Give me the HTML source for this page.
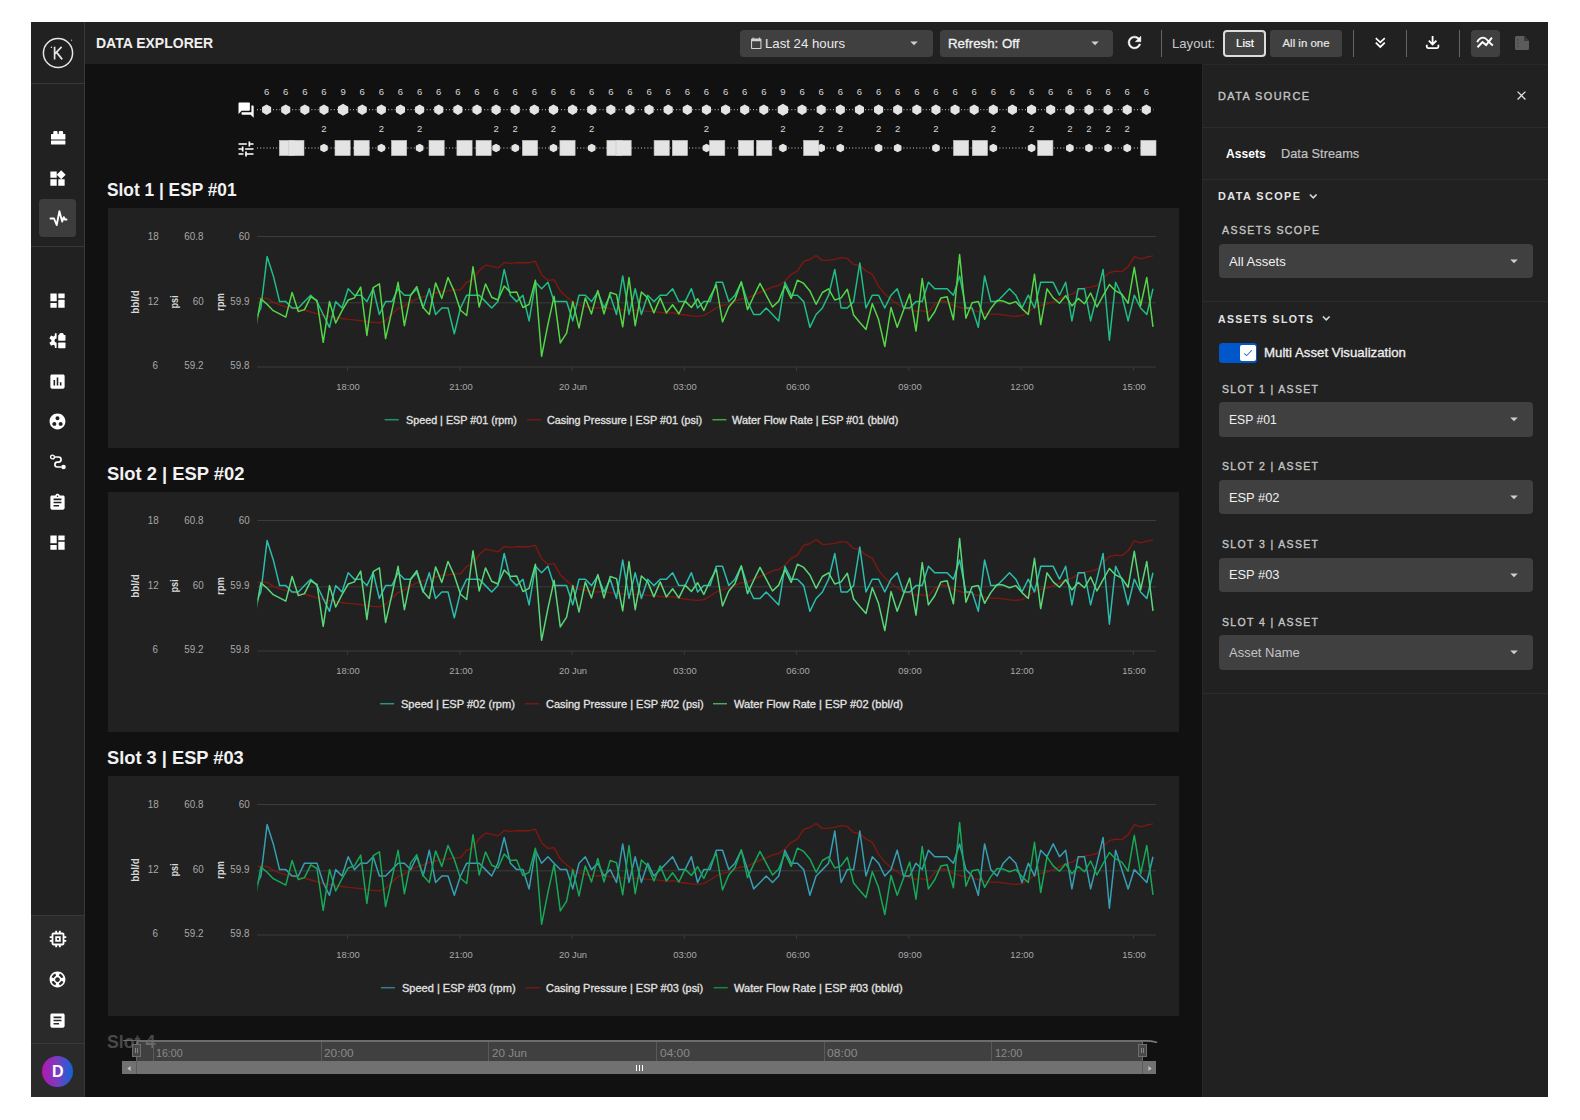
<!DOCTYPE html>
<html><head><meta charset="utf-8"><title>Data Explorer</title>
<style>
html,body{margin:0;padding:0;background:#fff;}
body{width:1580px;height:1120px;position:relative;overflow:hidden;font-family:"Liberation Sans", sans-serif;}
body>div,body>svg,body>span{position:absolute;}
.t{white-space:nowrap;display:block;}
svg{overflow:visible;}
</style></head><body>
<div style="left:31px;top:22px;width:1517px;height:1075px;background:#111111;"></div>
<div style="left:85px;top:22px;width:1463px;height:42px;background:#212121;"></div>
<div style="left:31px;top:22px;width:53px;height:1075px;background:#212121;"></div>
<div style="left:84px;top:22px;width:1px;height:1075px;background:#383838;"></div>
<div style="left:31px;top:83px;width:53px;height:1px;background:#383838;"></div>
<div style="left:31px;top:246px;width:53px;height:1px;background:#383838;"></div>
<div style="left:31px;top:916px;width:53px;height:181px;background:#2a2a2a;"></div>
<div style="left:31px;top:915px;width:53px;height:1px;background:#383838;"></div>
<div style="left:31px;top:1043px;width:53px;height:1px;background:#383838;"></div>
<div style="left:1202px;top:64px;width:346px;height:1033px;background:#212121;"></div>
<div style="left:1202px;top:64px;width:346px;height:1px;background:#282828;"></div>
<div style="left:1202px;top:64px;width:1px;height:1033px;background:#272727;"></div>
<div style="left:1202px;top:127px;width:346px;height:1px;background:#2c2c2c;"></div>
<div style="left:1202px;top:179px;width:346px;height:1px;background:#2c2c2c;"></div>
<div style="left:1202px;top:301px;width:346px;height:1px;background:#2c2c2c;"></div>
<div style="left:1202px;top:693px;width:346px;height:1px;background:#2c2c2c;"></div>
<svg style="left:41.7px;top:36.6px;" width="32" height="32" viewBox="0 0 32 32"><circle cx="16" cy="16" r="14.600" fill="none" stroke="#e6e6e6" stroke-width="1.500"/><path d="M12.6 9.8V22.4M12.6 17.2L19.6 9.8M14.6 15.4L20.2 22.4" fill="none" stroke="#e6e6e6" stroke-width="1.700"/><circle cx="9.4" cy="10.3" r="0.8" fill="#e6e6e6"/><circle cx="29.5" cy="3.2" r="0.7" fill="#aaa"/></svg>
<div style="left:39px;top:199px;width:37px;height:38px;background:#3d3d3d;border-radius:4px;"></div>
<svg style="left:48.2px;top:168.5px;" width="19" height="19" viewBox="0 0 24 24"><path d="M13 13v8h8v-8h-8zM3 21h8v-8H3v8zM3 3v8h8V3H3zm13.66-1.31L11 7.34 16.66 13l5.66-5.66-5.66-5.65z" fill="#fff" /></svg>
<svg style="left:48.2px;top:290.5px;" width="19" height="19" viewBox="0 0 24 24"><path d="M3 13h8V3H3v10zm0 8h8v-6H3v6zm10 0h8V11h-8v10zm0-18v6h8V3h-8z" fill="#fff" /></svg>
<svg style="left:48.2px;top:371.5px;" width="19" height="19" viewBox="0 0 24 24"><path d="M19 3H5c-1.1 0-2 .9-2 2v14c0 1.1.9 2 2 2h14c1.1 0 2-.9 2-2V5c0-1.1-.9-2-2-2zM9 17H7v-7h2v7zm4 0h-2V7h2v10zm4 0h-2v-4h2v4z" fill="#fff" /></svg>
<svg style="left:48.2px;top:412.2px;" width="19" height="19" viewBox="0 0 24 24"><path d="M12 2C6.48 2 2 6.48 2 12s4.48 10 10 10 10-4.48 10-10S17.52 2 12 2zM8 17.5c-1.38 0-2.5-1.12-2.5-2.5s1.12-2.5 2.5-2.5 2.5 1.12 2.5 2.5-1.12 2.5-2.5 2.5zM9.5 8c0-1.38 1.12-2.5 2.5-2.5s2.5 1.12 2.5 2.5-1.12 2.5-2.5 2.5S9.5 9.38 9.5 8zm6.500 9.5c-1.38 0-2.5-1.12-2.5-2.5s1.12-2.5 2.5-2.5 2.500 1.12 2.500 2.500-1.12 2.500-2.500 2.500z" fill="#fff" /></svg>
<svg style="left:48.2px;top:492.5px;" width="19" height="19" viewBox="0 0 24 24"><path d="M19 3h-4.18C14.4 1.84 13.3 1 12 1c-1.3 0-2.4.84-2.820 2H5c-1.100 0-2 .9-2 2v14c0 1.100.9 2 2 2h14c1.100 0 2-.9 2-2V5c0-1.100-.9-2-2-2zm-7 0c.55 0 1 .45 1 1s-.45 1-1 1-1-.45-1-1 .45-1 1-1zm2 14H7v-2h7v2zm3-4H7v-2h10v2zm0-4H7V7h10v2z" fill="#fff" /></svg>
<svg style="left:48.2px;top:532.5px;" width="19" height="19" viewBox="0 0 24 24"><path d="M3 13h8V3H3v10zm0 8h8v-6H3v6zm10 0h8V11h-8v10zm0-18v6h8V3h-8z" fill="#fff" /></svg>
<svg style="left:46.7px;top:928.2px;" width="22" height="22" viewBox="0 0 24 24"><path d="M15 9H9v6h6V9zm-2 4h-2v-2h2v2zm8-2V9h-2V7c0-1.100-.9-2-2-2h-2V3h-2v2h-2V3H9v2H7c-1.100 0-2 .9-2 2v2H3v2h2v2H3v2h2v2c0 1.100.9 2 2 2h2v2h2v-2h2v2h2v-2h2c1.100 0 2-.9 2-2v-2h2v-2h-2v-2h2zm-4 6H7V7h10v10z" fill="#fff" /></svg>
<svg style="left:48.2px;top:970.0px;" width="19" height="19" viewBox="0 0 24 24"><path d="M12 2C6.48 2 2 6.48 2 12s4.48 10 10 10 10-4.48 10-10S17.52 2 12 2zm7.46 7.12l-2.780 1.150c-.51-1.360-1.580-2.440-2.950-2.940l1.150-2.780c2.100.8 3.770 2.470 4.580 4.570zM12 15c-1.660 0-3-1.340-3-3s1.340-3 3-3 3 1.340 3 3-1.340 3-3 3zM9.130 4.540l1.170 2.780c-1.380.5-2.470 1.590-2.980 2.970L4.540 9.130c.81-2.110 2.480-3.780 4.590-4.590zM4.540 14.870l2.780-1.150c.51 1.380 1.590 2.460 2.970 2.960l-1.170 2.780c-2.100-.81-3.770-2.480-4.580-4.590zm10.340 4.590l-1.150-2.780c1.370-.51 2.450-1.590 2.950-2.970l2.780 1.170c-.81 2.100-2.480 3.770-4.580 4.580z" fill="#fff" /></svg>
<svg style="left:48.2px;top:1010.5px;" width="19" height="19" viewBox="0 0 24 24"><path d="M19 3H5c-1.100 0-2 .9-2 2v14c0 1.100.9 2 2 2h14c1.100 0 2-.9 2-2V5c0-1.100-.9-2-2-2zm-5 14H7v-2h7v2zm3-4H7v-2h10v2zm0-4H7V7h10v2z" fill="#fff" /></svg>
<svg style="left:50.8px;top:131.2px;" width="14.4" height="13.6" viewBox="0 0 14.400 13.600"><rect x="2.300" y="0" width="4.300" height="5" rx="1.100" fill="#fff"/><rect x="7.800" y="0" width="4.300" height="5" rx="1.100" fill="#fff"/><rect x="0" y="3.100" width="14.400" height="5.300" rx="0.500" fill="#fff"/><rect x="0" y="9.500" width="14.400" height="4.100" rx="0.500" fill="#fff"/></svg>
<svg style="left:48.9px;top:333px;" width="16.5" height="15.2" viewBox="0 0 16.500 15.200"><defs><clipPath id="gclip"><rect x="-1" y="-1" width="8.600" height="18"/></clipPath></defs><path d="M9.50 2.65L9.31 0.19L5.89 0.19L5.70 2.65L4.26 3.48L2.04 2.42L0.33 5.38L2.37 6.77L2.37 8.43L0.33 9.82L2.04 12.78L4.26 11.72L5.70 12.55L5.89 15.01L9.31 15.01L9.50 12.55L10.94 11.72L13.16 12.78L14.87 9.82L12.83 8.43L12.83 6.77L14.87 5.38L13.16 2.42L10.94 3.48ZM5.5 7.6a2.1 2.1 0 1 0 4.2 0a2.1 2.1 0 1 0 -4.2 0Z" fill="#fff" fill-rule="evenodd" clip-path="url(#gclip)"/><rect x="9.200" y="2" width="7.300" height="5.700" rx="0.600" fill="#fff"/><rect x="10.200" y="0" width="4.500" height="4" rx="1.600" fill="#fff"/><rect x="9.200" y="9.600" width="7.300" height="5.600" rx="0.600" fill="#fff"/></svg>
<svg style="left:49px;top:209px;" width="18" height="18" viewBox="0 0 18 18"><path d="M1.500 9.500H5l2.700 6.500L10.400 2.300l2.800 10.200 1.600-4.300 1.200 2.300h1.500" fill="none" stroke="#fff" stroke-width="1.900" stroke-linejoin="round" stroke-linecap="round"/></svg>
<svg style="left:49px;top:453px;" width="18" height="18" viewBox="0 0 18 18"><circle cx="3.500" cy="4" r="1.900" fill="none" stroke="#fff" stroke-width="1.400"/><circle cx="14.500" cy="14" r="2.300" fill="#fff"/><path d="M5.400 4H9.500a2.600 2.600 0 0 1 0 5.200H8.300a2.400 2.400 0 0 0 0 4.800H12.300" fill="none" stroke="#fff" stroke-width="1.700"/></svg>
<div style="left:42.200px;top:1055.500px;width:31px;height:31px;border-radius:50%;background:linear-gradient(90deg,#b217b0 0%,#7a3cc0 50%,#0c66d6 100%);"></div>
<span class="t" style="left:-442.2px;width:1000px;text-align:center;transform-origin:50% 50%;top:1061.00px;font-size:16px;line-height:22px;font-weight:700;color:#fff;">D</span>
<span class="t" style="left:95.88px;transform-origin:0 50%;top:33.00px;font-size:14.5px;line-height:20px;font-weight:700;color:#efefef;transform:scaleX(0.9656);">DATA EXPLORER</span>
<div style="left:740px;top:30px;width:193px;height:27px;background:#404040;border-radius:4px;"></div>
<svg style="left:750.35px;top:36.95px;" width="12.5" height="12.5" viewBox="0 0 24 24"><path d="M20 3h-1V1h-2v2H7V1H5v2H4c-1.100 0-2 .9-2 2v16c0 1.100.9 2 2 2h16c1.100 0 2-.9 2-2V5c0-1.100-.9-2-2-2zm0 18H4V8h16v13z" fill="#d4d4d4" /></svg>
<span class="t" style="left:765.33px;transform-origin:0 50%;top:34.00px;font-size:13.5px;line-height:19px;font-weight:400;color:#e9e9e9;transform:scaleX(0.9778);">Last 24 hours</span>
<svg style="left:905.0px;top:33.9px;" width="18" height="18" viewBox="0 0 24 24"><path d="M7 10l5 5 5-5z" fill="#cfcfcf" /></svg>
<div style="left:940px;top:30px;width:173px;height:27px;background:#404040;border-radius:4px;"></div>
<span class="t" style="left:947.83px;transform-origin:0 50%;top:34.00px;font-size:13.5px;line-height:19px;font-weight:400;color:#f2f2f2;transform:scaleX(0.9858);-webkit-text-stroke:0.3px #f2f2f2;">Refresh: Off</span>
<svg style="left:1086.0px;top:33.9px;" width="18" height="18" viewBox="0 0 24 24"><path d="M7 10l5 5 5-5z" fill="#cfcfcf" /></svg>
<svg style="left:1125.3px;top:33.3px;" width="19" height="19" viewBox="0 0 24 24"><path d="M17.650 6.350C16.200 4.900 14.210 4 12 4c-4.420 0-7.990 3.580-7.990 8s3.570 8 7.990 8c3.730 0 6.840-2.550 7.730-6h-2.080c-.82 2.330-3.040 4-5.650 4-3.310 0-6-2.690-6-6s2.690-6 6-6c1.660 0 3.140.69 4.220 1.780L13 11h7V4l-2.350 2.350z" fill="#fff" stroke="#fff" stroke-width="0.600"/></svg>
<div style="left:1161px;top:30px;width:1px;height:27px;background:#646464;"></div>
<div style="left:1353px;top:30px;width:1px;height:27px;background:#646464;"></div>
<div style="left:1406px;top:30px;width:1px;height:27px;background:#646464;"></div>
<div style="left:1459px;top:30px;width:1px;height:27px;background:#646464;"></div>
<span class="t" style="left:1172.33px;transform-origin:0 50%;top:34.00px;font-size:13.5px;line-height:19px;font-weight:400;color:#c9c9c9;transform:scaleX(0.9707);">Layout:</span>
<div style="left:1223px;top:30px;width:43px;height:27px;background:#404040;border-radius:4px;box-sizing:border-box;border:2px solid #dcdcdc;"></div>
<span class="t" style="left:744.5px;width:1000px;text-align:center;transform-origin:50% 50%;top:35.00px;font-size:11.5px;line-height:16px;font-weight:400;color:#fff;transform:scaleX(1.0052);-webkit-text-stroke:0.2px #fff;">List</span>
<div style="left:1270px;top:30px;width:72px;height:27px;background:#404040;border-radius:3px;"></div>
<span class="t" style="left:806px;width:1000px;text-align:center;transform-origin:50% 50%;top:35.00px;font-size:11.5px;line-height:16px;font-weight:400;color:#e6e6e6;transform:scaleX(0.9934);-webkit-text-stroke:0.2px #e6e6e6;">All in one</span>
<svg style="left:1373.6px;top:36.3px;" width="12.6" height="12.6" viewBox="0 0 14 14"><path d="M2 2.300l5 4.700 5-4.700M2 7.500l5 4.700 5-4.700" fill="none" stroke="#fff" stroke-width="1.900"/></svg>
<svg style="left:1425.3px;top:35.2px;" width="15.2" height="15.2" viewBox="0 0 16 16"><path d="M8 1v8.500M4 6l4 4 4-4" fill="none" stroke="#fff" stroke-width="1.900"/><path d="M1.900 10.200v2.300a1.300 1.300 0 0 0 1.300 1.300h9.600a1.300 1.300 0 0 0 1.300-1.300v-2.300" fill="none" stroke="#fff" stroke-width="1.900"/></svg>
<div style="left:1471px;top:30px;width:29px;height:27px;background:#404040;border-radius:4px;"></div>
<svg style="left:1476.2px;top:35.0px;" width="18" height="14" viewBox="0 0 18 14"><path d="M1.200 7.200C3 3 6.500 1.500 9.500 3.500S14 9 17 10.500" fill="none" stroke="#fff" stroke-width="1.900"/><path d="M1.500 12.200l5-5.200 3.600 3 5.800-7.400" fill="none" stroke="#fff" stroke-width="2"/></svg>
<svg style="left:1515px;top:36px;" width="14" height="14" viewBox="0 0 14 14"><path d="M1.500 0H9l5 5v7.500A1.500 1.500 0 0 1 12.500 14h-11A1.500 1.500 0 0 1 0 12.500v-11A1.500 1.500 0 0 1 1.500 0z" fill="#5c5c5c"/><path d="M9 0v5h5z" fill="#3a3a3a"/><rect x="2.300" y="3.300" width="1.400" height="1.400" fill="#444"/><rect x="2.300" y="6.300" width="1.400" height="1.400" fill="#444"/><rect x="2.300" y="9.300" width="1.400" height="1.400" fill="#444"/></svg>
<span class="t" style="left:1218.02px;transform-origin:0 50%;top:88.00px;font-size:11.5px;line-height:16px;font-weight:400;color:#c6c6c6;letter-spacing:1.5px;transform:scaleX(0.9505);-webkit-text-stroke:0.35px #c6c6c6;">DATA SOURCE</span>
<svg style="left:1513.5px;top:88.3px;" width="15" height="15" viewBox="0 0 24 24"><path d="M19 6.410L17.590 5 12 10.590 6.410 5 5 6.410 10.590 12 5 17.590 6.410 19 12 13.410 17.590 19 19 17.590 13.410 12z" fill="#e0e0e0" /></svg>
<span class="t" style="left:1225.62px;transform-origin:0 50%;top:144.00px;font-size:13.5px;line-height:19px;font-weight:700;color:#fff;transform:scaleX(0.8965);">Assets</span>
<span class="t" style="left:1281.12px;transform-origin:0 50%;top:144.00px;font-size:13.5px;line-height:19px;font-weight:400;color:#c2c2c2;transform:scaleX(0.9475);-webkit-text-stroke:0.2px #c2c2c2;">Data Streams</span>
<span class="t" style="left:1218.02px;transform-origin:0 50%;top:188.00px;font-size:11.5px;line-height:16px;font-weight:700;color:#e4e4e4;letter-spacing:1.5px;transform:scaleX(0.9451);">DATA SCOPE</span>
<svg style="left:1305.75px;top:188.55px;" width="14.5" height="14.5" viewBox="0 0 24 24"><path d="M16.590 8.590L12 13.170 7.410 8.590 6 10l6 6 6-6z" fill="#e4e4e4" stroke="#e4e4e4" stroke-width="0.700"/></svg>
<span class="t" style="left:1221.72px;transform-origin:0 50%;top:222.00px;font-size:11.5px;line-height:16px;font-weight:400;color:#c6c6c6;letter-spacing:1.5px;transform:scaleX(0.9208);-webkit-text-stroke:0.35px #c6c6c6;">ASSETS SCOPE</span>
<div style="left:1219px;top:243.7px;width:314px;height:34.5px;background:#404040;border-radius:4px;"></div>
<span class="t" style="left:1228.62px;transform-origin:0 50%;top:252.00px;font-size:13.5px;line-height:19px;font-weight:400;color:#f0f0f0;transform:scaleX(0.9687);">All Assets</span>
<svg style="left:1505.0px;top:251.59999999999997px;" width="18" height="18" viewBox="0 0 24 24"><path d="M7 10l5 5 5-5z" fill="#cfcfcf" /></svg>
<span class="t" style="left:1218.02px;transform-origin:0 50%;top:311.00px;font-size:11.5px;line-height:16px;font-weight:700;color:#e4e4e4;letter-spacing:1.5px;transform:scaleX(0.9131);">ASSETS SLOTS</span>
<svg style="left:1318.75px;top:311.35px;" width="14.5" height="14.5" viewBox="0 0 24 24"><path d="M16.590 8.590L12 13.170 7.410 8.590 6 10l6 6 6-6z" fill="#e4e4e4" stroke="#e4e4e4" stroke-width="0.700"/></svg>
<div style="left:1219px;top:343px;width:38px;height:20px;background:#0057c9;border-radius:3.500px;"></div>
<div style="left:1240px;top:345px;width:16px;height:16px;background:#fff;border-radius:2px;"></div>
<svg style="left:1242.6px;top:348px;" width="10" height="10" viewBox="0 0 10 10"><path d="M1.200 5.500l2.500 2.100 5.200-5.400" fill="none" stroke="#3f7ad6" stroke-width="1.050"/></svg>
<span class="t" style="left:1264.33px;transform-origin:0 50%;top:343.00px;font-size:13.5px;line-height:19px;font-weight:400;color:#f0f0f0;transform:scaleX(0.9822);-webkit-text-stroke:0.3px #f0f0f0;">Multi Asset Visualization</span>
<span class="t" style="left:1221.72px;transform-origin:0 50%;top:381.00px;font-size:11.5px;line-height:16px;font-weight:400;color:#c6c6c6;letter-spacing:1.5px;transform:scaleX(0.9110);-webkit-text-stroke:0.35px #c6c6c6;">SLOT 1 | ASSET</span>
<div style="left:1219px;top:402.0px;width:314px;height:34.5px;background:#404040;border-radius:4px;"></div>
<span class="t" style="left:1228.62px;transform-origin:0 50%;top:410.00px;font-size:13.5px;line-height:19px;font-weight:400;color:#f0f0f0;transform:scaleX(0.9011);">ESP #01</span>
<svg style="left:1505.0px;top:409.9px;" width="18" height="18" viewBox="0 0 24 24"><path d="M7 10l5 5 5-5z" fill="#cfcfcf" /></svg>
<span class="t" style="left:1221.72px;transform-origin:0 50%;top:458.00px;font-size:11.5px;line-height:16px;font-weight:400;color:#c6c6c6;letter-spacing:1.5px;transform:scaleX(0.9110);-webkit-text-stroke:0.35px #c6c6c6;">SLOT 2 | ASSET</span>
<div style="left:1219px;top:479.8px;width:314px;height:34.5px;background:#404040;border-radius:4px;"></div>
<span class="t" style="left:1228.62px;transform-origin:0 50%;top:488.00px;font-size:13.5px;line-height:19px;font-weight:400;color:#f0f0f0;transform:scaleX(0.9501);">ESP #02</span>
<svg style="left:1505.0px;top:487.7px;" width="18" height="18" viewBox="0 0 24 24"><path d="M7 10l5 5 5-5z" fill="#cfcfcf" /></svg>
<span class="t" style="left:1221.72px;transform-origin:0 50%;top:536.00px;font-size:11.5px;line-height:16px;font-weight:400;color:#c6c6c6;letter-spacing:1.5px;transform:scaleX(0.9110);-webkit-text-stroke:0.35px #c6c6c6;">SLOT 3 | ASSET</span>
<div style="left:1219px;top:557.6px;width:314px;height:34.5px;background:#404040;border-radius:4px;"></div>
<span class="t" style="left:1228.62px;transform-origin:0 50%;top:565.00px;font-size:13.5px;line-height:19px;font-weight:400;color:#f0f0f0;transform:scaleX(0.9501);">ESP #03</span>
<svg style="left:1505.0px;top:565.5px;" width="18" height="18" viewBox="0 0 24 24"><path d="M7 10l5 5 5-5z" fill="#cfcfcf" /></svg>
<span class="t" style="left:1221.72px;transform-origin:0 50%;top:614.00px;font-size:11.5px;line-height:16px;font-weight:400;color:#c6c6c6;letter-spacing:1.5px;transform:scaleX(0.9110);-webkit-text-stroke:0.35px #c6c6c6;">SLOT 4 | ASSET</span>
<div style="left:1219px;top:635.4px;width:314px;height:34.5px;background:#404040;border-radius:4px;"></div>
<span class="t" style="left:1228.62px;transform-origin:0 50%;top:643.00px;font-size:13.5px;line-height:19px;font-weight:400;color:#c4c4c4;transform:scaleX(0.9615);">Asset Name</span>
<svg style="left:1505.0px;top:643.3px;" width="18" height="18" viewBox="0 0 24 24"><path d="M7 10l5 5 5-5z" fill="#cfcfcf" /></svg>
<svg style="left:0;top:0" width="1580" height="200" viewBox="0 0 1580 200"><line x1="257" y1="109.700" x2="1153.500" y2="109.700" stroke="#cfcfcf" stroke-width="1" stroke-dasharray="1 2.200"/><line x1="257" y1="148" x2="1153.500" y2="148" stroke="#cfcfcf" stroke-width="1" stroke-dasharray="1 2.200"/><polygon points="271.15,112.33 266.60,114.95 262.05,112.33 262.05,107.08 266.60,104.45 271.15,107.08" fill="#e4e4e4"/><polygon points="290.27,112.33 285.72,114.95 281.18,112.33 281.18,107.08 285.72,104.45 290.27,107.08" fill="#e4e4e4"/><polygon points="309.39,112.33 304.85,114.95 300.30,112.33 300.30,107.08 304.85,104.45 309.39,107.08" fill="#e4e4e4"/><polygon points="328.52,112.33 323.97,114.95 319.43,112.33 319.43,107.08 323.97,104.45 328.52,107.08" fill="#e4e4e4"/><polygon points="348.29,112.70 343.10,115.70 337.90,112.70 337.90,106.70 343.10,103.70 348.29,106.70" fill="#e4e4e4"/><polygon points="366.77,112.33 362.22,114.95 357.67,112.33 357.67,107.08 362.22,104.45 366.77,107.08" fill="#e4e4e4"/><polygon points="385.89,112.33 381.34,114.95 376.80,112.33 376.80,107.08 381.34,104.45 385.89,107.08" fill="#e4e4e4"/><polygon points="405.01,112.33 400.47,114.95 395.92,112.33 395.92,107.08 400.47,104.45 405.01,107.08" fill="#e4e4e4"/><polygon points="424.14,112.33 419.59,114.95 415.05,112.33 415.05,107.08 419.59,104.45 424.14,107.08" fill="#e4e4e4"/><polygon points="443.26,112.33 438.72,114.95 434.17,112.33 434.17,107.08 438.72,104.45 443.26,107.08" fill="#e4e4e4"/><polygon points="462.39,112.33 457.84,114.95 453.29,112.33 453.29,107.08 457.84,104.45 462.39,107.08" fill="#e4e4e4"/><polygon points="481.51,112.33 476.96,114.95 472.42,112.33 472.42,107.08 476.96,104.45 481.51,107.08" fill="#e4e4e4"/><polygon points="500.63,112.33 496.09,114.95 491.54,112.33 491.54,107.08 496.09,104.45 500.63,107.08" fill="#e4e4e4"/><polygon points="519.76,112.33 515.21,114.95 510.67,112.33 510.67,107.08 515.21,104.45 519.76,107.08" fill="#e4e4e4"/><polygon points="538.88,112.33 534.34,114.95 529.79,112.33 529.79,107.08 534.34,104.45 538.88,107.08" fill="#e4e4e4"/><polygon points="558.01,112.33 553.46,114.95 548.91,112.33 548.91,107.08 553.46,104.45 558.01,107.08" fill="#e4e4e4"/><polygon points="577.13,112.33 572.58,114.95 568.04,112.33 568.04,107.08 572.58,104.45 577.13,107.08" fill="#e4e4e4"/><polygon points="596.25,112.33 591.71,114.95 587.16,112.33 587.16,107.08 591.71,104.45 596.25,107.08" fill="#e4e4e4"/><polygon points="615.38,112.33 610.83,114.95 606.29,112.33 606.29,107.08 610.83,104.45 615.38,107.08" fill="#e4e4e4"/><polygon points="634.50,112.33 629.96,114.95 625.41,112.33 625.41,107.08 629.96,104.45 634.50,107.08" fill="#e4e4e4"/><polygon points="653.63,112.33 649.08,114.95 644.53,112.33 644.53,107.08 649.08,104.45 653.63,107.08" fill="#e4e4e4"/><polygon points="672.75,112.33 668.20,114.95 663.66,112.33 663.66,107.08 668.20,104.45 672.75,107.08" fill="#e4e4e4"/><polygon points="691.87,112.33 687.33,114.95 682.78,112.33 682.78,107.08 687.33,104.45 691.87,107.08" fill="#e4e4e4"/><polygon points="711.00,112.33 706.45,114.95 701.91,112.33 701.91,107.08 706.45,104.45 711.00,107.08" fill="#e4e4e4"/><polygon points="730.12,112.33 725.58,114.95 721.03,112.33 721.03,107.08 725.58,104.45 730.12,107.08" fill="#e4e4e4"/><polygon points="749.25,112.33 744.70,114.95 740.15,112.33 740.15,107.08 744.70,104.45 749.25,107.08" fill="#e4e4e4"/><polygon points="768.37,112.33 763.82,114.95 759.28,112.33 759.28,107.08 763.82,104.45 768.37,107.08" fill="#e4e4e4"/><polygon points="788.14,112.70 782.95,115.70 777.75,112.70 777.75,106.70 782.95,103.70 788.14,106.70" fill="#e4e4e4"/><polygon points="806.62,112.33 802.07,114.95 797.53,112.33 797.53,107.08 802.07,104.45 806.62,107.08" fill="#e4e4e4"/><polygon points="825.74,112.33 821.20,114.95 816.65,112.33 816.65,107.08 821.20,104.45 825.74,107.08" fill="#e4e4e4"/><polygon points="844.87,112.33 840.32,114.95 835.77,112.33 835.77,107.08 840.32,104.45 844.87,107.08" fill="#e4e4e4"/><polygon points="863.99,112.33 859.44,114.95 854.90,112.33 854.90,107.08 859.44,104.45 863.99,107.08" fill="#e4e4e4"/><polygon points="883.11,112.33 878.57,114.95 874.02,112.33 874.02,107.08 878.57,104.45 883.11,107.08" fill="#e4e4e4"/><polygon points="902.24,112.33 897.69,114.95 893.15,112.33 893.15,107.08 897.69,104.45 902.24,107.08" fill="#e4e4e4"/><polygon points="921.36,112.33 916.82,114.95 912.27,112.33 912.27,107.08 916.82,104.45 921.36,107.08" fill="#e4e4e4"/><polygon points="940.49,112.33 935.94,114.95 931.39,112.33 931.39,107.08 935.94,104.45 940.49,107.08" fill="#e4e4e4"/><polygon points="959.61,112.33 955.06,114.95 950.52,112.33 950.52,107.08 955.06,104.45 959.61,107.08" fill="#e4e4e4"/><polygon points="978.73,112.33 974.19,114.95 969.64,112.33 969.64,107.08 974.19,104.45 978.73,107.08" fill="#e4e4e4"/><polygon points="997.86,112.33 993.31,114.95 988.77,112.33 988.77,107.08 993.31,104.45 997.86,107.08" fill="#e4e4e4"/><polygon points="1016.98,112.33 1012.44,114.95 1007.89,112.33 1007.89,107.08 1012.44,104.45 1016.98,107.08" fill="#e4e4e4"/><polygon points="1036.11,112.33 1031.56,114.95 1027.01,112.33 1027.01,107.08 1031.56,104.45 1036.11,107.08" fill="#e4e4e4"/><polygon points="1055.23,112.33 1050.68,114.95 1046.14,112.33 1046.14,107.08 1050.68,104.45 1055.23,107.08" fill="#e4e4e4"/><polygon points="1074.35,112.33 1069.81,114.95 1065.26,112.33 1065.26,107.08 1069.81,104.45 1074.35,107.08" fill="#e4e4e4"/><polygon points="1093.48,112.33 1088.93,114.95 1084.39,112.33 1084.39,107.08 1088.93,104.45 1093.48,107.08" fill="#e4e4e4"/><polygon points="1112.60,112.33 1108.06,114.95 1103.51,112.33 1103.51,107.08 1108.06,104.45 1112.60,107.08" fill="#e4e4e4"/><polygon points="1131.73,112.33 1127.18,114.95 1122.63,112.33 1122.63,107.08 1127.18,104.45 1131.73,107.08" fill="#e4e4e4"/><polygon points="1150.85,112.33 1146.30,114.95 1141.76,112.33 1141.76,107.08 1146.30,104.45 1150.85,107.08" fill="#e4e4e4"/><polygon points="327.74,150.18 323.97,152.35 320.20,150.18 320.20,145.82 323.97,143.65 327.74,145.82" fill="#e4e4e4"/><polygon points="385.11,150.18 381.34,152.35 377.58,150.18 377.58,145.82 381.34,143.65 385.11,145.82" fill="#e4e4e4"/><polygon points="423.36,150.18 419.59,152.35 415.82,150.18 415.82,145.82 419.59,143.65 423.36,145.82" fill="#e4e4e4"/><polygon points="499.86,150.18 496.09,152.35 492.32,150.18 492.32,145.82 496.09,143.65 499.86,145.82" fill="#e4e4e4"/><polygon points="518.98,150.18 515.21,152.35 511.44,150.18 511.44,145.82 515.21,143.65 518.98,145.82" fill="#e4e4e4"/><polygon points="557.23,150.18 553.46,152.35 549.69,150.18 549.69,145.82 553.46,143.65 557.23,145.82" fill="#e4e4e4"/><polygon points="595.48,150.18 591.71,152.35 587.94,150.18 587.94,145.82 591.71,143.65 595.48,145.82" fill="#e4e4e4"/><polygon points="710.22,150.18 706.45,152.35 702.68,150.18 702.68,145.82 706.45,143.65 710.22,145.82" fill="#e4e4e4"/><polygon points="786.72,150.18 782.95,152.35 779.18,150.18 779.18,145.82 782.95,143.65 786.72,145.82" fill="#e4e4e4"/><polygon points="824.96,150.18 821.20,152.35 817.43,150.18 817.43,145.82 821.20,143.65 824.96,145.82" fill="#e4e4e4"/><polygon points="844.09,150.18 840.32,152.35 836.55,150.18 836.55,145.82 840.32,143.65 844.09,145.82" fill="#e4e4e4"/><polygon points="882.34,150.18 878.57,152.35 874.80,150.18 874.80,145.82 878.57,143.65 882.34,145.82" fill="#e4e4e4"/><polygon points="901.46,150.18 897.69,152.35 893.92,150.18 893.92,145.82 897.69,143.65 901.46,145.82" fill="#e4e4e4"/><polygon points="939.71,150.18 935.94,152.35 932.17,150.18 932.17,145.82 935.94,143.65 939.71,145.82" fill="#e4e4e4"/><polygon points="997.08,150.18 993.31,152.35 989.54,150.18 989.54,145.82 993.31,143.65 997.08,145.82" fill="#e4e4e4"/><polygon points="1035.33,150.18 1031.56,152.35 1027.79,150.18 1027.79,145.82 1031.56,143.65 1035.33,145.82" fill="#e4e4e4"/><polygon points="1073.58,150.18 1069.81,152.35 1066.04,150.18 1066.04,145.82 1069.81,143.65 1073.58,145.82" fill="#e4e4e4"/><polygon points="1092.70,150.18 1088.93,152.35 1085.16,150.18 1085.16,145.82 1088.93,143.65 1092.70,145.82" fill="#e4e4e4"/><polygon points="1111.82,150.18 1108.06,152.35 1104.29,150.18 1104.29,145.82 1108.06,143.65 1111.82,145.82" fill="#e4e4e4"/><polygon points="1130.95,150.18 1127.18,152.35 1123.41,150.18 1123.41,145.82 1127.18,143.65 1130.95,145.82" fill="#e4e4e4"/><rect x="279.4" y="140.400" width="15.200" height="15.200" fill="#e4e4e4" stroke="#c4c4c4" stroke-width="0.600"/><rect x="288.8" y="140.400" width="15.200" height="15.200" fill="#e4e4e4" stroke="#c4c4c4" stroke-width="0.600"/><rect x="335.0" y="140.400" width="15.200" height="15.200" fill="#e4e4e4" stroke="#c4c4c4" stroke-width="0.600"/><rect x="354.0" y="140.400" width="15.200" height="15.200" fill="#e4e4e4" stroke="#c4c4c4" stroke-width="0.600"/><rect x="391.5" y="140.400" width="15.200" height="15.200" fill="#e4e4e4" stroke="#c4c4c4" stroke-width="0.600"/><rect x="429.0" y="140.400" width="15.200" height="15.200" fill="#e4e4e4" stroke="#c4c4c4" stroke-width="0.600"/><rect x="456.9" y="140.400" width="15.200" height="15.200" fill="#e4e4e4" stroke="#c4c4c4" stroke-width="0.600"/><rect x="476.0" y="140.400" width="15.200" height="15.200" fill="#e4e4e4" stroke="#c4c4c4" stroke-width="0.600"/><rect x="522.4" y="140.400" width="15.200" height="15.200" fill="#e4e4e4" stroke="#c4c4c4" stroke-width="0.600"/><rect x="559.9" y="140.400" width="15.200" height="15.200" fill="#e4e4e4" stroke="#c4c4c4" stroke-width="0.600"/><rect x="606.9" y="140.400" width="15.200" height="15.200" fill="#e4e4e4" stroke="#c4c4c4" stroke-width="0.600"/><rect x="616.0" y="140.400" width="15.200" height="15.200" fill="#e4e4e4" stroke="#c4c4c4" stroke-width="0.600"/><rect x="654.1" y="140.400" width="15.200" height="15.200" fill="#e4e4e4" stroke="#c4c4c4" stroke-width="0.600"/><rect x="672.3" y="140.400" width="15.200" height="15.200" fill="#e4e4e4" stroke="#c4c4c4" stroke-width="0.600"/><rect x="709.6" y="140.400" width="15.200" height="15.200" fill="#e4e4e4" stroke="#c4c4c4" stroke-width="0.600"/><rect x="738.5" y="140.400" width="15.200" height="15.200" fill="#e4e4e4" stroke="#c4c4c4" stroke-width="0.600"/><rect x="756.6" y="140.400" width="15.200" height="15.200" fill="#e4e4e4" stroke="#c4c4c4" stroke-width="0.600"/><rect x="803.6" y="140.400" width="15.200" height="15.200" fill="#e4e4e4" stroke="#c4c4c4" stroke-width="0.600"/><rect x="953.5" y="140.400" width="15.200" height="15.200" fill="#e4e4e4" stroke="#c4c4c4" stroke-width="0.600"/><rect x="972.3" y="140.400" width="15.200" height="15.200" fill="#e4e4e4" stroke="#c4c4c4" stroke-width="0.600"/><rect x="1037.7" y="140.400" width="15.200" height="15.200" fill="#e4e4e4" stroke="#c4c4c4" stroke-width="0.600"/><rect x="1140.8" y="140.400" width="15.200" height="15.200" fill="#e4e4e4" stroke="#c4c4c4" stroke-width="0.600"/></svg>
<span class="t" style="left:-233.39999999999998px;width:1000px;text-align:center;transform-origin:50% 50%;top:85.00px;font-size:9.5px;line-height:13px;font-weight:400;color:#d8d8d8;">6</span>
<span class="t" style="left:-214.27599999999995px;width:1000px;text-align:center;transform-origin:50% 50%;top:85.00px;font-size:9.5px;line-height:13px;font-weight:400;color:#d8d8d8;">6</span>
<span class="t" style="left:-195.152px;width:1000px;text-align:center;transform-origin:50% 50%;top:85.00px;font-size:9.5px;line-height:13px;font-weight:400;color:#d8d8d8;">6</span>
<span class="t" style="left:-176.02799999999996px;width:1000px;text-align:center;transform-origin:50% 50%;top:85.00px;font-size:9.5px;line-height:13px;font-weight:400;color:#d8d8d8;">6</span>
<span class="t" style="left:-156.904px;width:1000px;text-align:center;transform-origin:50% 50%;top:85.00px;font-size:9.5px;line-height:13px;font-weight:400;color:#d8d8d8;">9</span>
<span class="t" style="left:-137.77999999999997px;width:1000px;text-align:center;transform-origin:50% 50%;top:85.00px;font-size:9.5px;line-height:13px;font-weight:400;color:#d8d8d8;">6</span>
<span class="t" style="left:-118.65599999999995px;width:1000px;text-align:center;transform-origin:50% 50%;top:85.00px;font-size:9.5px;line-height:13px;font-weight:400;color:#d8d8d8;">6</span>
<span class="t" style="left:-99.53199999999998px;width:1000px;text-align:center;transform-origin:50% 50%;top:85.00px;font-size:9.5px;line-height:13px;font-weight:400;color:#d8d8d8;">6</span>
<span class="t" style="left:-80.40800000000002px;width:1000px;text-align:center;transform-origin:50% 50%;top:85.00px;font-size:9.5px;line-height:13px;font-weight:400;color:#d8d8d8;">6</span>
<span class="t" style="left:-61.28399999999999px;width:1000px;text-align:center;transform-origin:50% 50%;top:85.00px;font-size:9.5px;line-height:13px;font-weight:400;color:#d8d8d8;">6</span>
<span class="t" style="left:-42.15999999999997px;width:1000px;text-align:center;transform-origin:50% 50%;top:85.00px;font-size:9.5px;line-height:13px;font-weight:400;color:#d8d8d8;">6</span>
<span class="t" style="left:-23.036px;width:1000px;text-align:center;transform-origin:50% 50%;top:85.00px;font-size:9.5px;line-height:13px;font-weight:400;color:#d8d8d8;">6</span>
<span class="t" style="left:-3.9119999999999777px;width:1000px;text-align:center;transform-origin:50% 50%;top:85.00px;font-size:9.5px;line-height:13px;font-weight:400;color:#d8d8d8;">6</span>
<span class="t" style="left:15.211999999999989px;width:1000px;text-align:center;transform-origin:50% 50%;top:85.00px;font-size:9.5px;line-height:13px;font-weight:400;color:#d8d8d8;">6</span>
<span class="t" style="left:34.33600000000001px;width:1000px;text-align:center;transform-origin:50% 50%;top:85.00px;font-size:9.5px;line-height:13px;font-weight:400;color:#d8d8d8;">6</span>
<span class="t" style="left:53.460000000000036px;width:1000px;text-align:center;transform-origin:50% 50%;top:85.00px;font-size:9.5px;line-height:13px;font-weight:400;color:#d8d8d8;">6</span>
<span class="t" style="left:72.58400000000006px;width:1000px;text-align:center;transform-origin:50% 50%;top:85.00px;font-size:9.5px;line-height:13px;font-weight:400;color:#d8d8d8;">6</span>
<span class="t" style="left:91.70800000000008px;width:1000px;text-align:center;transform-origin:50% 50%;top:85.00px;font-size:9.5px;line-height:13px;font-weight:400;color:#d8d8d8;">6</span>
<span class="t" style="left:110.832px;width:1000px;text-align:center;transform-origin:50% 50%;top:85.00px;font-size:9.5px;line-height:13px;font-weight:400;color:#d8d8d8;">6</span>
<span class="t" style="left:129.95600000000002px;width:1000px;text-align:center;transform-origin:50% 50%;top:85.00px;font-size:9.5px;line-height:13px;font-weight:400;color:#d8d8d8;">6</span>
<span class="t" style="left:149.07999999999993px;width:1000px;text-align:center;transform-origin:50% 50%;top:85.00px;font-size:9.5px;line-height:13px;font-weight:400;color:#d8d8d8;">6</span>
<span class="t" style="left:168.20399999999995px;width:1000px;text-align:center;transform-origin:50% 50%;top:85.00px;font-size:9.5px;line-height:13px;font-weight:400;color:#d8d8d8;">6</span>
<span class="t" style="left:187.32799999999997px;width:1000px;text-align:center;transform-origin:50% 50%;top:85.00px;font-size:9.5px;line-height:13px;font-weight:400;color:#d8d8d8;">6</span>
<span class="t" style="left:206.452px;width:1000px;text-align:center;transform-origin:50% 50%;top:85.00px;font-size:9.5px;line-height:13px;font-weight:400;color:#d8d8d8;">6</span>
<span class="t" style="left:225.57600000000002px;width:1000px;text-align:center;transform-origin:50% 50%;top:85.00px;font-size:9.5px;line-height:13px;font-weight:400;color:#d8d8d8;">6</span>
<span class="t" style="left:244.70000000000005px;width:1000px;text-align:center;transform-origin:50% 50%;top:85.00px;font-size:9.5px;line-height:13px;font-weight:400;color:#d8d8d8;">6</span>
<span class="t" style="left:263.82400000000007px;width:1000px;text-align:center;transform-origin:50% 50%;top:85.00px;font-size:9.5px;line-height:13px;font-weight:400;color:#d8d8d8;">6</span>
<span class="t" style="left:282.948px;width:1000px;text-align:center;transform-origin:50% 50%;top:85.00px;font-size:9.5px;line-height:13px;font-weight:400;color:#d8d8d8;">9</span>
<span class="t" style="left:302.072px;width:1000px;text-align:center;transform-origin:50% 50%;top:85.00px;font-size:9.5px;line-height:13px;font-weight:400;color:#d8d8d8;">6</span>
<span class="t" style="left:321.196px;width:1000px;text-align:center;transform-origin:50% 50%;top:85.00px;font-size:9.5px;line-height:13px;font-weight:400;color:#d8d8d8;">6</span>
<span class="t" style="left:340.31999999999994px;width:1000px;text-align:center;transform-origin:50% 50%;top:85.00px;font-size:9.5px;line-height:13px;font-weight:400;color:#d8d8d8;">6</span>
<span class="t" style="left:359.44399999999996px;width:1000px;text-align:center;transform-origin:50% 50%;top:85.00px;font-size:9.5px;line-height:13px;font-weight:400;color:#d8d8d8;">6</span>
<span class="t" style="left:378.568px;width:1000px;text-align:center;transform-origin:50% 50%;top:85.00px;font-size:9.5px;line-height:13px;font-weight:400;color:#d8d8d8;">6</span>
<span class="t" style="left:397.692px;width:1000px;text-align:center;transform-origin:50% 50%;top:85.00px;font-size:9.5px;line-height:13px;font-weight:400;color:#d8d8d8;">6</span>
<span class="t" style="left:416.81600000000003px;width:1000px;text-align:center;transform-origin:50% 50%;top:85.00px;font-size:9.5px;line-height:13px;font-weight:400;color:#d8d8d8;">6</span>
<span class="t" style="left:435.93999999999994px;width:1000px;text-align:center;transform-origin:50% 50%;top:85.00px;font-size:9.5px;line-height:13px;font-weight:400;color:#d8d8d8;">6</span>
<span class="t" style="left:455.06399999999996px;width:1000px;text-align:center;transform-origin:50% 50%;top:85.00px;font-size:9.5px;line-height:13px;font-weight:400;color:#d8d8d8;">6</span>
<span class="t" style="left:474.188px;width:1000px;text-align:center;transform-origin:50% 50%;top:85.00px;font-size:9.5px;line-height:13px;font-weight:400;color:#d8d8d8;">6</span>
<span class="t" style="left:493.312px;width:1000px;text-align:center;transform-origin:50% 50%;top:85.00px;font-size:9.5px;line-height:13px;font-weight:400;color:#d8d8d8;">6</span>
<span class="t" style="left:512.4359999999999px;width:1000px;text-align:center;transform-origin:50% 50%;top:85.00px;font-size:9.5px;line-height:13px;font-weight:400;color:#d8d8d8;">6</span>
<span class="t" style="left:531.56px;width:1000px;text-align:center;transform-origin:50% 50%;top:85.00px;font-size:9.5px;line-height:13px;font-weight:400;color:#d8d8d8;">6</span>
<span class="t" style="left:550.684px;width:1000px;text-align:center;transform-origin:50% 50%;top:85.00px;font-size:9.5px;line-height:13px;font-weight:400;color:#d8d8d8;">6</span>
<span class="t" style="left:569.808px;width:1000px;text-align:center;transform-origin:50% 50%;top:85.00px;font-size:9.5px;line-height:13px;font-weight:400;color:#d8d8d8;">6</span>
<span class="t" style="left:588.932px;width:1000px;text-align:center;transform-origin:50% 50%;top:85.00px;font-size:9.5px;line-height:13px;font-weight:400;color:#d8d8d8;">6</span>
<span class="t" style="left:608.056px;width:1000px;text-align:center;transform-origin:50% 50%;top:85.00px;font-size:9.5px;line-height:13px;font-weight:400;color:#d8d8d8;">6</span>
<span class="t" style="left:627.1799999999998px;width:1000px;text-align:center;transform-origin:50% 50%;top:85.00px;font-size:9.5px;line-height:13px;font-weight:400;color:#d8d8d8;">6</span>
<span class="t" style="left:646.3040000000001px;width:1000px;text-align:center;transform-origin:50% 50%;top:85.00px;font-size:9.5px;line-height:13px;font-weight:400;color:#d8d8d8;">6</span>
<span class="t" style="left:-176.02799999999996px;width:1000px;text-align:center;transform-origin:50% 50%;top:122.00px;font-size:9.5px;line-height:13px;font-weight:400;color:#d8d8d8;">2</span>
<span class="t" style="left:-118.65599999999995px;width:1000px;text-align:center;transform-origin:50% 50%;top:122.00px;font-size:9.5px;line-height:13px;font-weight:400;color:#d8d8d8;">2</span>
<span class="t" style="left:-80.40800000000002px;width:1000px;text-align:center;transform-origin:50% 50%;top:122.00px;font-size:9.5px;line-height:13px;font-weight:400;color:#d8d8d8;">2</span>
<span class="t" style="left:-3.9119999999999777px;width:1000px;text-align:center;transform-origin:50% 50%;top:122.00px;font-size:9.5px;line-height:13px;font-weight:400;color:#d8d8d8;">2</span>
<span class="t" style="left:15.211999999999989px;width:1000px;text-align:center;transform-origin:50% 50%;top:122.00px;font-size:9.5px;line-height:13px;font-weight:400;color:#d8d8d8;">2</span>
<span class="t" style="left:53.460000000000036px;width:1000px;text-align:center;transform-origin:50% 50%;top:122.00px;font-size:9.5px;line-height:13px;font-weight:400;color:#d8d8d8;">2</span>
<span class="t" style="left:91.70800000000008px;width:1000px;text-align:center;transform-origin:50% 50%;top:122.00px;font-size:9.5px;line-height:13px;font-weight:400;color:#d8d8d8;">2</span>
<span class="t" style="left:206.452px;width:1000px;text-align:center;transform-origin:50% 50%;top:122.00px;font-size:9.5px;line-height:13px;font-weight:400;color:#d8d8d8;">2</span>
<span class="t" style="left:282.948px;width:1000px;text-align:center;transform-origin:50% 50%;top:122.00px;font-size:9.5px;line-height:13px;font-weight:400;color:#d8d8d8;">2</span>
<span class="t" style="left:321.196px;width:1000px;text-align:center;transform-origin:50% 50%;top:122.00px;font-size:9.5px;line-height:13px;font-weight:400;color:#d8d8d8;">2</span>
<span class="t" style="left:340.31999999999994px;width:1000px;text-align:center;transform-origin:50% 50%;top:122.00px;font-size:9.5px;line-height:13px;font-weight:400;color:#d8d8d8;">2</span>
<span class="t" style="left:378.568px;width:1000px;text-align:center;transform-origin:50% 50%;top:122.00px;font-size:9.5px;line-height:13px;font-weight:400;color:#d8d8d8;">2</span>
<span class="t" style="left:397.692px;width:1000px;text-align:center;transform-origin:50% 50%;top:122.00px;font-size:9.5px;line-height:13px;font-weight:400;color:#d8d8d8;">2</span>
<span class="t" style="left:435.93999999999994px;width:1000px;text-align:center;transform-origin:50% 50%;top:122.00px;font-size:9.5px;line-height:13px;font-weight:400;color:#d8d8d8;">2</span>
<span class="t" style="left:493.312px;width:1000px;text-align:center;transform-origin:50% 50%;top:122.00px;font-size:9.5px;line-height:13px;font-weight:400;color:#d8d8d8;">2</span>
<span class="t" style="left:531.56px;width:1000px;text-align:center;transform-origin:50% 50%;top:122.00px;font-size:9.5px;line-height:13px;font-weight:400;color:#d8d8d8;">2</span>
<span class="t" style="left:569.808px;width:1000px;text-align:center;transform-origin:50% 50%;top:122.00px;font-size:9.5px;line-height:13px;font-weight:400;color:#d8d8d8;">2</span>
<span class="t" style="left:588.932px;width:1000px;text-align:center;transform-origin:50% 50%;top:122.00px;font-size:9.5px;line-height:13px;font-weight:400;color:#d8d8d8;">2</span>
<span class="t" style="left:608.056px;width:1000px;text-align:center;transform-origin:50% 50%;top:122.00px;font-size:9.5px;line-height:13px;font-weight:400;color:#d8d8d8;">2</span>
<span class="t" style="left:627.1799999999998px;width:1000px;text-align:center;transform-origin:50% 50%;top:122.00px;font-size:9.5px;line-height:13px;font-weight:400;color:#d8d8d8;">2</span>
<svg style="left:237.1px;top:101.10000000000001px;" width="18.2" height="18.2" viewBox="0 0 24 24"><path d="M21 6h-2v9H6v2c0 .55.45 1 1 1h11l4 4V7c0-.55-.45-1-1-1zm-4 6V3c0-.55-.45-1-1-1H3c-.55 0-1 .45-1 1v14l4-4h10c.55 0 1-.45 1-1z" fill="#fff" /></svg>
<svg style="left:236.2px;top:138.7px;" width="20" height="20" viewBox="0 0 24 24"><path d="M3 17v2h6v-2H3zM3 5v2h10V5H3zm10 16v-2h8v-2h-8v-2h-2v6h2zM7 9v2H3v2h4v2h2V9H7zm14 4v-2H11v2h10zm-6-4h2V7h4V5h-4V3h-2v6z" fill="#fff" /></svg>
<span class="t" style="left:106.75px;transform-origin:0 50%;top:176.00px;font-size:19px;line-height:27px;font-weight:700;color:#f2f2f2;transform:scaleX(0.9110);">Slot 1 | ESP #01</span>
<div style="left:108px;top:208px;width:1071px;height:240px;background:#212121;"></div>
<svg style="left:0;top:0" width="1580" height="1120" viewBox="0 0 1580 1120"><defs><clipPath id="cp0"><rect x="257.5" y="208" width="898.5" height="200"/></clipPath></defs><line x1="257.2" y1="236.5" x2="1156.1" y2="236.5" stroke="#3c3c3c" stroke-width="1"/><line x1="257.2" y1="302.8" x2="1156.1" y2="302.8" stroke="#3c3c3c" stroke-width="1"/><line x1="257.2" y1="367.0" x2="1156.1" y2="367.0" stroke="#3c3c3c" stroke-width="1"/><line x1="347.6" y1="367.0" x2="347.6" y2="370.8" stroke="#3c3c3c" stroke-width="1"/><line x1="459.85" y1="367.0" x2="459.85" y2="370.8" stroke="#3c3c3c" stroke-width="1"/><line x1="572.1" y1="367.0" x2="572.1" y2="370.8" stroke="#3c3c3c" stroke-width="1"/><line x1="684.35" y1="367.0" x2="684.35" y2="370.8" stroke="#3c3c3c" stroke-width="1"/><line x1="796.6" y1="367.0" x2="796.6" y2="370.8" stroke="#3c3c3c" stroke-width="1"/><line x1="908.85" y1="367.0" x2="908.85" y2="370.8" stroke="#3c3c3c" stroke-width="1"/><line x1="1021.1" y1="367.0" x2="1021.1" y2="370.8" stroke="#3c3c3c" stroke-width="1"/><line x1="1133.35" y1="367.0" x2="1133.35" y2="370.8" stroke="#3c3c3c" stroke-width="1"/><polyline points="254.6,298.7 260.9,297.9 267.1,298.4 273.3,302.1 279.6,304.8 285.8,306.6 292.1,308.0 298.3,309.6 304.5,310.2 310.8,312.0 317.0,313.7 323.2,315.5 329.5,316.6 335.7,317.7 342.0,318.5 348.2,319.3 354.4,319.8 360.7,320.6 366.9,321.4 373.2,322.3 379.4,322.8 385.6,320.4 391.9,313.9 398.1,308.6 404.4,305.9 410.6,301.9 416.8,298.9 423.1,296.8 429.3,294.6 435.6,293.0 441.8,291.4 448.0,290.9 454.3,289.8 460.5,289.8 466.7,282.3 473.0,279.6 479.2,270.5 485.5,265.2 491.7,266.3 497.9,267.9 504.2,262.7 510.4,263.4 516.7,262.7 522.9,262.7 529.1,262.7 535.4,261.4 541.6,274.8 547.9,280.5 554.1,279.6 560.3,290.9 566.6,296.8 572.8,302.1 579.0,304.8 585.3,306.4 591.5,307.7 597.8,308.0 604.0,307.5 610.2,308.6 616.5,309.4 622.7,309.9 629.0,310.2 635.2,310.5 641.4,310.7 647.7,311.3 653.9,311.6 660.2,312.3 666.4,313.4 672.6,312.6 678.9,314.1 685.1,315.0 691.4,315.9 697.6,316.3 703.8,315.6 710.1,312.0 716.3,308.0 722.5,305.4 728.8,303.8 735.0,301.1 741.3,298.8 747.5,298.2 753.7,295.2 760.0,292.3 766.2,289.8 772.5,286.9 778.7,285.5 784.9,281.3 791.2,274.3 797.4,271.1 803.7,261.4 809.9,259.5 816.1,255.5 822.4,260.4 828.6,260.1 834.8,259.3 841.1,257.7 847.3,258.4 853.6,264.4 859.8,265.5 866.0,271.1 872.3,274.1 878.5,286.1 884.8,294.1 891.0,299.5 897.2,303.8 903.5,307.7 909.7,309.6 916.0,311.3 922.2,310.7 928.4,312.3 934.7,304.3 940.9,300.5 947.1,302.1 953.4,305.4 959.6,307.3 965.9,309.1 972.1,310.2 978.3,311.6 984.6,313.4 990.8,314.1 997.1,314.1 1003.3,314.8 1009.5,315.8 1015.8,316.3 1022.0,315.6 1028.3,311.8 1034.5,307.0 1040.7,305.4 1047.0,303.8 1053.2,301.6 1059.5,298.9 1065.7,295.7 1071.9,294.1 1078.2,290.4 1084.4,288.2 1090.6,287.1 1096.9,285.5 1103.1,278.6 1109.4,272.7 1115.6,271.1 1121.8,271.6 1128.1,266.8 1134.3,256.6 1140.6,258.8 1146.8,257.1 1153.0,255.9" fill="none" stroke="#80180f" stroke-width="1.35" stroke-linejoin="round" clip-path="url(#cp0)"/><polyline points="254.6,320.9 260.9,308.0 267.1,256.6 273.3,275.9 279.6,301.6 285.8,301.6 292.1,308.0 298.3,308.0 304.5,301.6 310.8,295.2 317.0,301.6 323.2,314.5 329.5,327.3 335.7,301.6 342.0,308.0 348.2,288.7 354.4,295.2 360.7,295.2 366.9,301.6 373.2,288.7 379.4,314.5 385.6,301.6 391.9,301.6 398.1,288.7 404.4,295.2 410.6,295.2 416.8,288.7 423.1,308.0 429.3,288.7 435.6,314.5 441.8,308.0 448.0,308.0 454.3,333.8 460.5,308.0 466.7,295.2 473.0,295.2 479.2,295.2 485.5,301.6 491.7,308.0 497.9,301.6 504.2,269.4 510.4,295.2 516.7,301.6 522.9,295.2 529.1,320.9 535.4,282.3 541.6,288.7 547.9,282.3 554.1,301.6 560.3,301.6 566.6,301.6 572.8,320.9 579.0,295.2 585.3,295.2 591.5,301.6 597.8,292.0 604.0,308.0 610.2,295.2 616.5,314.5 622.7,275.9 629.0,314.5 635.2,288.7 641.4,314.5 647.7,295.2 653.9,301.6 660.2,295.2 666.4,295.2 672.6,288.7 678.9,301.6 685.1,301.6 691.4,288.7 697.6,308.0 703.8,301.6 710.1,301.6 716.3,282.3 722.5,282.3 728.8,301.6 735.0,295.2 741.3,282.3 747.5,301.6 753.7,314.5 760.0,314.5 766.2,308.0 772.5,314.5 778.7,320.9 784.9,282.3 791.2,295.2 797.4,295.2 803.7,301.6 809.9,327.3 816.1,314.5 822.4,308.0 828.6,295.2 834.8,269.4 841.1,308.0 847.3,308.0 853.6,301.6 859.8,263.0 866.0,308.0 872.3,295.2 878.5,295.2 884.8,308.0 891.0,295.2 897.2,288.7 903.5,308.0 909.7,308.0 916.0,301.6 922.2,301.6 928.4,282.3 934.7,288.7 940.9,288.7 947.1,288.7 953.4,295.2 959.6,275.9 965.9,308.0 972.1,308.0 978.3,327.3 984.6,275.9 990.8,301.6 997.1,301.6 1003.3,295.2 1009.5,288.7 1015.8,295.2 1022.0,308.0 1028.3,295.2 1034.5,308.0 1040.7,282.3 1047.0,282.3 1053.2,282.3 1059.5,295.2 1065.7,282.3 1071.9,320.9 1078.2,288.7 1084.4,288.7 1090.6,320.9 1096.9,295.2 1103.1,269.4 1109.4,340.2 1115.6,282.3 1121.8,295.2 1128.1,320.9 1134.3,295.2 1140.6,308.0 1146.8,314.5 1153.0,288.7" fill="none" stroke="#1fbe86" stroke-width="1.5" stroke-linejoin="round" clip-path="url(#cp0)"/><polyline points="254.6,334.3 260.9,298.9 267.1,304.3 273.3,310.7 279.6,313.9 285.8,317.1 292.1,292.5 298.3,311.6 304.5,309.6 310.8,296.8 317.0,300.5 323.2,342.3 329.5,301.6 335.7,323.0 342.0,310.7 348.2,300.0 354.4,297.9 360.7,287.1 366.9,335.4 373.2,287.7 379.4,283.9 385.6,338.6 391.9,310.7 398.1,282.3 404.4,325.7 410.6,295.2 416.8,286.6 423.1,307.5 429.3,314.5 435.6,282.9 441.8,298.4 448.0,277.5 454.3,291.4 460.5,310.2 466.7,315.5 473.0,266.8 479.2,307.0 485.5,283.9 491.7,297.3 497.9,300.0 504.2,286.1 510.4,292.5 516.7,292.0 522.9,307.5 529.1,304.3 535.4,280.2 541.6,356.3 547.9,324.6 554.1,296.3 560.3,342.9 566.6,333.2 572.8,301.6 579.0,327.9 585.3,297.9 591.5,313.9 597.8,290.4 604.0,313.9 610.2,292.5 616.5,294.6 622.7,326.8 629.0,277.5 635.2,325.7 641.4,292.0 647.7,297.9 653.9,312.9 660.2,297.9 666.4,312.9 672.6,304.8 678.9,313.9 685.1,301.1 691.4,307.5 697.6,298.7 703.8,310.5 710.1,296.8 716.3,285.0 722.5,322.0 728.8,307.0 735.0,299.5 741.3,281.8 747.5,309.6 753.7,296.3 760.0,283.4 766.2,295.2 772.5,307.0 778.7,301.1 784.9,285.5 791.2,298.4 797.4,280.2 803.7,283.4 809.9,290.9 816.1,304.3 822.4,292.5 828.6,288.8 834.8,300.0 841.1,297.9 847.3,289.3 853.6,315.0 859.8,322.5 866.0,329.5 872.3,303.8 878.5,319.3 884.8,346.6 891.0,307.5 897.2,327.3 903.5,310.2 909.7,294.1 916.0,331.1 922.2,278.6 928.4,320.9 934.7,311.8 940.9,297.9 947.1,296.8 953.4,319.8 959.6,254.5 965.9,318.2 972.1,302.7 978.3,301.6 984.6,319.3 990.8,308.6 997.1,300.5 1003.3,301.1 1009.5,303.8 1015.8,301.6 1022.0,308.6 1028.3,314.5 1034.5,274.3 1040.7,324.6 1047.0,288.8 1053.2,297.9 1059.5,303.2 1065.7,295.7 1071.9,305.9 1078.2,298.4 1084.4,303.8 1090.6,293.0 1096.9,307.0 1103.1,295.7 1109.4,284.5 1115.6,290.9 1121.8,294.1 1128.1,303.2 1134.3,267.3 1140.6,305.9 1146.8,277.5 1153.0,326.8" fill="none" stroke="#55d648" stroke-width="1.5" stroke-linejoin="round" clip-path="url(#cp0)"/><line x1="384.7" y1="419.7" x2="398.7" y2="419.7" stroke="#1fbe86" stroke-width="1.500" opacity="0.750"/><line x1="527.0" y1="419.7" x2="541.0" y2="419.7" stroke="#8c1a12" stroke-width="1.500" opacity="0.750"/><line x1="712.4" y1="419.7" x2="726.4" y2="419.7" stroke="#55d648" stroke-width="1.500" opacity="0.750"/></svg>
<span class="t" style="right:1421.7px;transform-origin:100% 50%;top:229.00px;font-size:10.5px;line-height:15px;font-weight:400;color:#a8a8a8;transform:scaleX(0.9350);">18</span>
<span class="t" style="right:1376.1px;transform-origin:100% 50%;top:229.00px;font-size:10.5px;line-height:15px;font-weight:400;color:#a8a8a8;transform:scaleX(0.9350);">60.8</span>
<span class="t" style="right:1330.1px;transform-origin:100% 50%;top:229.00px;font-size:10.5px;line-height:15px;font-weight:400;color:#a8a8a8;transform:scaleX(0.9350);">60</span>
<span class="t" style="right:1421.7px;transform-origin:100% 50%;top:294.00px;font-size:10.5px;line-height:15px;font-weight:400;color:#a8a8a8;transform:scaleX(0.9350);">12</span>
<span class="t" style="right:1376.1px;transform-origin:100% 50%;top:294.00px;font-size:10.5px;line-height:15px;font-weight:400;color:#a8a8a8;transform:scaleX(0.9350);">60</span>
<span class="t" style="right:1330.1px;transform-origin:100% 50%;top:294.00px;font-size:10.5px;line-height:15px;font-weight:400;color:#a8a8a8;transform:scaleX(0.9350);">59.9</span>
<span class="t" style="right:1421.7px;transform-origin:100% 50%;top:358.00px;font-size:10.5px;line-height:15px;font-weight:400;color:#a8a8a8;transform:scaleX(0.9350);">6</span>
<span class="t" style="right:1376.1px;transform-origin:100% 50%;top:358.00px;font-size:10.5px;line-height:15px;font-weight:400;color:#a8a8a8;transform:scaleX(0.9350);">59.2</span>
<span class="t" style="right:1330.1px;transform-origin:100% 50%;top:358.00px;font-size:10.5px;line-height:15px;font-weight:400;color:#a8a8a8;transform:scaleX(0.9350);">59.8</span>
<span class="t" style="left:-363.6px;width:1000px;text-align:center;transform-origin:50% 50%;top:295.00px;font-size:10px;line-height:14px;font-weight:700;color:#d8d8d8;transform:rotate(-90deg) scaleX(0.9878);">bbl/d</span>
<span class="t" style="left:-325.1px;width:1000px;text-align:center;transform-origin:50% 50%;top:295.00px;font-size:10px;line-height:14px;font-weight:700;color:#d8d8d8;transform:rotate(-90deg) scaleX(0.9133);">psi</span>
<span class="t" style="left:-279.2px;width:1000px;text-align:center;transform-origin:50% 50%;top:295.00px;font-size:10px;line-height:14px;font-weight:700;color:#d8d8d8;transform:rotate(-90deg) scaleX(0.9521);">rpm</span>
<span class="t" style="left:-151.7px;width:1000px;text-align:center;transform-origin:50% 50%;top:380.00px;font-size:9.9px;line-height:14px;font-weight:400;color:#a8a8a8;transform:scaleX(0.9500);">18:00</span>
<span class="t" style="left:-39.39999999999998px;width:1000px;text-align:center;transform-origin:50% 50%;top:380.00px;font-size:9.9px;line-height:14px;font-weight:400;color:#a8a8a8;transform:scaleX(0.9500);">21:00</span>
<span class="t" style="left:72.89999999999998px;width:1000px;text-align:center;transform-origin:50% 50%;top:380.00px;font-size:9.9px;line-height:14px;font-weight:400;color:#a8a8a8;transform:scaleX(0.9500);">20 Jun</span>
<span class="t" style="left:185.20000000000005px;width:1000px;text-align:center;transform-origin:50% 50%;top:380.00px;font-size:9.9px;line-height:14px;font-weight:400;color:#a8a8a8;transform:scaleX(0.9500);">03:00</span>
<span class="t" style="left:297.5px;width:1000px;text-align:center;transform-origin:50% 50%;top:380.00px;font-size:9.9px;line-height:14px;font-weight:400;color:#a8a8a8;transform:scaleX(0.9500);">06:00</span>
<span class="t" style="left:409.79999999999995px;width:1000px;text-align:center;transform-origin:50% 50%;top:380.00px;font-size:9.9px;line-height:14px;font-weight:400;color:#a8a8a8;transform:scaleX(0.9500);">09:00</span>
<span class="t" style="left:522.0999999999999px;width:1000px;text-align:center;transform-origin:50% 50%;top:380.00px;font-size:9.9px;line-height:14px;font-weight:400;color:#a8a8a8;transform:scaleX(0.9500);">12:00</span>
<span class="t" style="left:634.4000000000001px;width:1000px;text-align:center;transform-origin:50% 50%;top:380.00px;font-size:9.9px;line-height:14px;font-weight:400;color:#a8a8a8;transform:scaleX(0.9500);">15:00</span>
<span class="t" style="left:405.78px;transform-origin:0 50%;top:413.00px;font-size:10.5px;line-height:15px;font-weight:400;color:#e2e2e2;transform:scaleX(1.0251);-webkit-text-stroke:0.3px #e2e2e2;">Speed | ESP #01 (rpm)</span>
<span class="t" style="left:547.48px;transform-origin:0 50%;top:413.00px;font-size:10.5px;line-height:15px;font-weight:400;color:#e2e2e2;transform:scaleX(1.0280);-webkit-text-stroke:0.3px #e2e2e2;">Casing Pressure | ESP #01 (psi)</span>
<span class="t" style="left:732.48px;transform-origin:0 50%;top:413.00px;font-size:10.5px;line-height:15px;font-weight:400;color:#e2e2e2;transform:scaleX(1.0375);-webkit-text-stroke:0.3px #e2e2e2;">Water Flow Rate | ESP #01 (bbl/d)</span>
<span class="t" style="left:106.75px;transform-origin:0 50%;top:460.00px;font-size:19px;line-height:27px;font-weight:700;color:#f2f2f2;transform:scaleX(0.9665);">Slot 2 | ESP #02</span>
<div style="left:108px;top:492px;width:1071px;height:240px;background:#212121;"></div>
<svg style="left:0;top:0" width="1580" height="1120" viewBox="0 0 1580 1120"><defs><clipPath id="cp1"><rect x="257.5" y="492" width="898.5" height="200"/></clipPath></defs><line x1="257.2" y1="520.5" x2="1156.1" y2="520.5" stroke="#3c3c3c" stroke-width="1"/><line x1="257.2" y1="586.8" x2="1156.1" y2="586.8" stroke="#3c3c3c" stroke-width="1"/><line x1="257.2" y1="651.0" x2="1156.1" y2="651.0" stroke="#3c3c3c" stroke-width="1"/><line x1="347.6" y1="651.0" x2="347.6" y2="654.8" stroke="#3c3c3c" stroke-width="1"/><line x1="459.85" y1="651.0" x2="459.85" y2="654.8" stroke="#3c3c3c" stroke-width="1"/><line x1="572.1" y1="651.0" x2="572.1" y2="654.8" stroke="#3c3c3c" stroke-width="1"/><line x1="684.35" y1="651.0" x2="684.35" y2="654.8" stroke="#3c3c3c" stroke-width="1"/><line x1="796.6" y1="651.0" x2="796.6" y2="654.8" stroke="#3c3c3c" stroke-width="1"/><line x1="908.85" y1="651.0" x2="908.85" y2="654.8" stroke="#3c3c3c" stroke-width="1"/><line x1="1021.1" y1="651.0" x2="1021.1" y2="654.8" stroke="#3c3c3c" stroke-width="1"/><line x1="1133.35" y1="651.0" x2="1133.35" y2="654.8" stroke="#3c3c3c" stroke-width="1"/><polyline points="254.6,582.7 260.9,581.9 267.1,582.4 273.3,586.1 279.6,588.8 285.8,590.6 292.1,592.0 298.3,593.6 304.5,594.2 310.8,596.0 317.0,597.7 323.2,599.5 329.5,600.6 335.7,601.7 342.0,602.5 348.2,603.3 354.4,603.8 360.7,604.6 366.9,605.4 373.2,606.3 379.4,606.8 385.6,604.4 391.9,597.9 398.1,592.6 404.4,589.9 410.6,585.9 416.8,582.9 423.1,580.8 429.3,578.6 435.6,577.0 441.8,575.4 448.0,574.9 454.3,573.8 460.5,573.8 466.7,566.3 473.0,563.6 479.2,554.5 485.5,549.2 491.7,550.3 497.9,551.9 504.2,546.7 510.4,547.4 516.7,546.7 522.9,546.7 529.1,546.7 535.4,545.4 541.6,558.8 547.9,564.5 554.1,563.6 560.3,574.9 566.6,580.8 572.8,586.1 579.0,588.8 585.3,590.4 591.5,591.7 597.8,592.0 604.0,591.5 610.2,592.6 616.5,593.4 622.7,593.9 629.0,594.2 635.2,594.5 641.4,594.7 647.7,595.3 653.9,595.6 660.2,596.3 666.4,597.4 672.6,596.6 678.9,598.1 685.1,599.0 691.4,599.9 697.6,600.3 703.8,599.6 710.1,596.0 716.3,592.0 722.5,589.4 728.8,587.8 735.0,585.1 741.3,582.8 747.5,582.2 753.7,579.2 760.0,576.3 766.2,573.8 772.5,570.9 778.7,569.5 784.9,565.3 791.2,558.3 797.4,555.1 803.7,545.4 809.9,543.5 816.1,539.5 822.4,544.4 828.6,544.1 834.8,543.3 841.1,541.7 847.3,542.4 853.6,548.4 859.8,549.5 866.0,555.1 872.3,558.1 878.5,570.1 884.8,578.1 891.0,583.5 897.2,587.8 903.5,591.7 909.7,593.6 916.0,595.3 922.2,594.7 928.4,596.3 934.7,588.3 940.9,584.5 947.1,586.1 953.4,589.4 959.6,591.3 965.9,593.1 972.1,594.2 978.3,595.6 984.6,597.4 990.8,598.1 997.1,598.1 1003.3,598.8 1009.5,599.8 1015.8,600.3 1022.0,599.6 1028.3,595.8 1034.5,591.0 1040.7,589.4 1047.0,587.8 1053.2,585.6 1059.5,582.9 1065.7,579.7 1071.9,578.1 1078.2,574.4 1084.4,572.2 1090.6,571.1 1096.9,569.5 1103.1,562.6 1109.4,556.7 1115.6,555.1 1121.8,555.6 1128.1,550.8 1134.3,540.6 1140.6,542.8 1146.8,541.1 1153.0,539.9" fill="none" stroke="#80180f" stroke-width="1.35" stroke-linejoin="round" clip-path="url(#cp1)"/><polyline points="254.6,604.9 260.9,592.0 267.1,540.6 273.3,559.9 279.6,585.6 285.8,585.6 292.1,592.0 298.3,592.0 304.5,585.6 310.8,579.2 317.0,585.6 323.2,598.5 329.5,611.3 335.7,585.6 342.0,592.0 348.2,572.7 354.4,579.2 360.7,579.2 366.9,585.6 373.2,572.7 379.4,598.5 385.6,585.6 391.9,585.6 398.1,572.7 404.4,579.2 410.6,579.2 416.8,572.7 423.1,592.0 429.3,572.7 435.6,598.5 441.8,592.0 448.0,592.0 454.3,617.8 460.5,592.0 466.7,579.2 473.0,579.2 479.2,579.2 485.5,585.6 491.7,592.0 497.9,585.6 504.2,553.5 510.4,579.2 516.7,585.6 522.9,579.2 529.1,604.9 535.4,566.3 541.6,572.7 547.9,566.3 554.1,585.6 560.3,585.6 566.6,585.6 572.8,604.9 579.0,579.2 585.3,579.2 591.5,585.6 597.8,576.0 604.0,592.0 610.2,579.2 616.5,598.5 622.7,559.9 629.0,598.5 635.2,572.7 641.4,598.5 647.7,579.2 653.9,585.6 660.2,579.2 666.4,579.2 672.6,572.7 678.9,585.6 685.1,585.6 691.4,572.7 697.6,592.0 703.8,585.6 710.1,585.6 716.3,566.3 722.5,566.3 728.8,585.6 735.0,579.2 741.3,566.3 747.5,585.6 753.7,598.5 760.0,598.5 766.2,592.0 772.5,598.5 778.7,604.9 784.9,566.3 791.2,579.2 797.4,579.2 803.7,585.6 809.9,611.3 816.1,598.5 822.4,592.0 828.6,579.2 834.8,553.5 841.1,592.0 847.3,592.0 853.6,585.6 859.8,547.0 866.0,592.0 872.3,579.2 878.5,579.2 884.8,592.0 891.0,579.2 897.2,572.7 903.5,592.0 909.7,592.0 916.0,585.6 922.2,585.6 928.4,566.3 934.7,572.7 940.9,572.7 947.1,572.7 953.4,579.2 959.6,559.9 965.9,592.0 972.1,592.0 978.3,611.3 984.6,559.9 990.8,585.6 997.1,585.6 1003.3,579.2 1009.5,572.7 1015.8,579.2 1022.0,592.0 1028.3,579.2 1034.5,592.0 1040.7,566.3 1047.0,566.3 1053.2,566.3 1059.5,579.2 1065.7,566.3 1071.9,604.9 1078.2,572.7 1084.4,572.7 1090.6,604.9 1096.9,579.2 1103.1,553.5 1109.4,624.2 1115.6,566.3 1121.8,579.2 1128.1,604.9 1134.3,579.2 1140.6,592.0 1146.8,598.5 1153.0,572.7" fill="none" stroke="#2bbcae" stroke-width="1.5" stroke-linejoin="round" clip-path="url(#cp1)"/><polyline points="254.6,618.3 260.9,582.9 267.1,588.3 273.3,594.7 279.6,597.9 285.8,601.1 292.1,576.5 298.3,595.6 304.5,593.6 310.8,580.8 317.0,584.5 323.2,626.3 329.5,585.6 335.7,607.0 342.0,594.7 348.2,584.0 354.4,581.9 360.7,571.1 366.9,619.4 373.2,571.7 379.4,567.9 385.6,622.6 391.9,594.7 398.1,566.3 404.4,609.7 410.6,579.2 416.8,570.6 423.1,591.5 429.3,598.5 435.6,566.9 441.8,582.4 448.0,561.5 454.3,575.4 460.5,594.2 466.7,599.5 473.0,550.8 479.2,591.0 485.5,567.9 491.7,581.3 497.9,584.0 504.2,570.1 510.4,576.5 516.7,576.0 522.9,591.5 529.1,588.3 535.4,564.2 541.6,640.3 547.9,608.6 554.1,580.3 560.3,626.9 566.6,617.2 572.8,585.6 579.0,611.9 585.3,581.9 591.5,597.9 597.8,574.4 604.0,597.9 610.2,576.5 616.5,578.6 622.7,610.8 629.0,561.5 635.2,609.7 641.4,576.0 647.7,581.9 653.9,596.9 660.2,581.9 666.4,596.9 672.6,588.8 678.9,597.9 685.1,585.1 691.4,591.5 697.6,582.7 703.8,594.5 710.1,580.8 716.3,569.0 722.5,606.0 728.8,591.0 735.0,583.5 741.3,565.8 747.5,593.6 753.7,580.3 760.0,567.4 766.2,579.2 772.5,591.0 778.7,585.1 784.9,569.5 791.2,582.4 797.4,564.2 803.7,567.4 809.9,574.9 816.1,588.3 822.4,576.5 828.6,572.8 834.8,584.0 841.1,581.9 847.3,573.3 853.6,599.0 859.8,606.5 866.0,613.5 872.3,587.8 878.5,603.3 884.8,630.6 891.0,591.5 897.2,611.3 903.5,594.2 909.7,578.1 916.0,615.1 922.2,562.6 928.4,604.9 934.7,595.8 940.9,581.9 947.1,580.8 953.4,603.8 959.6,538.5 965.9,602.2 972.1,586.7 978.3,585.6 984.6,603.3 990.8,592.6 997.1,584.5 1003.3,585.1 1009.5,587.8 1015.8,585.6 1022.0,592.6 1028.3,598.5 1034.5,558.3 1040.7,608.6 1047.0,572.8 1053.2,581.9 1059.5,587.2 1065.7,579.7 1071.9,589.9 1078.2,582.4 1084.4,587.8 1090.6,577.0 1096.9,591.0 1103.1,579.7 1109.4,568.5 1115.6,574.9 1121.8,578.1 1128.1,587.2 1134.3,551.3 1140.6,589.9 1146.8,561.5 1153.0,610.8" fill="none" stroke="#5ad878" stroke-width="1.5" stroke-linejoin="round" clip-path="url(#cp1)"/><line x1="380.1" y1="703.7" x2="394.1" y2="703.7" stroke="#2bbcae" stroke-width="1.500" opacity="0.750"/><line x1="525.0" y1="703.7" x2="539.0" y2="703.7" stroke="#8c1a12" stroke-width="1.500" opacity="0.750"/><line x1="713.0" y1="703.7" x2="727.0" y2="703.7" stroke="#5ad878" stroke-width="1.500" opacity="0.750"/></svg>
<span class="t" style="right:1421.7px;transform-origin:100% 50%;top:513.00px;font-size:10.5px;line-height:15px;font-weight:400;color:#a8a8a8;transform:scaleX(0.9350);">18</span>
<span class="t" style="right:1376.1px;transform-origin:100% 50%;top:513.00px;font-size:10.5px;line-height:15px;font-weight:400;color:#a8a8a8;transform:scaleX(0.9350);">60.8</span>
<span class="t" style="right:1330.1px;transform-origin:100% 50%;top:513.00px;font-size:10.5px;line-height:15px;font-weight:400;color:#a8a8a8;transform:scaleX(0.9350);">60</span>
<span class="t" style="right:1421.7px;transform-origin:100% 50%;top:578.00px;font-size:10.5px;line-height:15px;font-weight:400;color:#a8a8a8;transform:scaleX(0.9350);">12</span>
<span class="t" style="right:1376.1px;transform-origin:100% 50%;top:578.00px;font-size:10.5px;line-height:15px;font-weight:400;color:#a8a8a8;transform:scaleX(0.9350);">60</span>
<span class="t" style="right:1330.1px;transform-origin:100% 50%;top:578.00px;font-size:10.5px;line-height:15px;font-weight:400;color:#a8a8a8;transform:scaleX(0.9350);">59.9</span>
<span class="t" style="right:1421.7px;transform-origin:100% 50%;top:642.00px;font-size:10.5px;line-height:15px;font-weight:400;color:#a8a8a8;transform:scaleX(0.9350);">6</span>
<span class="t" style="right:1376.1px;transform-origin:100% 50%;top:642.00px;font-size:10.5px;line-height:15px;font-weight:400;color:#a8a8a8;transform:scaleX(0.9350);">59.2</span>
<span class="t" style="right:1330.1px;transform-origin:100% 50%;top:642.00px;font-size:10.5px;line-height:15px;font-weight:400;color:#a8a8a8;transform:scaleX(0.9350);">59.8</span>
<span class="t" style="left:-363.6px;width:1000px;text-align:center;transform-origin:50% 50%;top:579.00px;font-size:10px;line-height:14px;font-weight:700;color:#d8d8d8;transform:rotate(-90deg) scaleX(0.9878);">bbl/d</span>
<span class="t" style="left:-325.1px;width:1000px;text-align:center;transform-origin:50% 50%;top:579.00px;font-size:10px;line-height:14px;font-weight:700;color:#d8d8d8;transform:rotate(-90deg) scaleX(0.9133);">psi</span>
<span class="t" style="left:-279.2px;width:1000px;text-align:center;transform-origin:50% 50%;top:579.00px;font-size:10px;line-height:14px;font-weight:700;color:#d8d8d8;transform:rotate(-90deg) scaleX(0.9521);">rpm</span>
<span class="t" style="left:-151.7px;width:1000px;text-align:center;transform-origin:50% 50%;top:664.00px;font-size:9.9px;line-height:14px;font-weight:400;color:#a8a8a8;transform:scaleX(0.9500);">18:00</span>
<span class="t" style="left:-39.39999999999998px;width:1000px;text-align:center;transform-origin:50% 50%;top:664.00px;font-size:9.9px;line-height:14px;font-weight:400;color:#a8a8a8;transform:scaleX(0.9500);">21:00</span>
<span class="t" style="left:72.89999999999998px;width:1000px;text-align:center;transform-origin:50% 50%;top:664.00px;font-size:9.9px;line-height:14px;font-weight:400;color:#a8a8a8;transform:scaleX(0.9500);">20 Jun</span>
<span class="t" style="left:185.20000000000005px;width:1000px;text-align:center;transform-origin:50% 50%;top:664.00px;font-size:9.9px;line-height:14px;font-weight:400;color:#a8a8a8;transform:scaleX(0.9500);">03:00</span>
<span class="t" style="left:297.5px;width:1000px;text-align:center;transform-origin:50% 50%;top:664.00px;font-size:9.9px;line-height:14px;font-weight:400;color:#a8a8a8;transform:scaleX(0.9500);">06:00</span>
<span class="t" style="left:409.79999999999995px;width:1000px;text-align:center;transform-origin:50% 50%;top:664.00px;font-size:9.9px;line-height:14px;font-weight:400;color:#a8a8a8;transform:scaleX(0.9500);">09:00</span>
<span class="t" style="left:522.0999999999999px;width:1000px;text-align:center;transform-origin:50% 50%;top:664.00px;font-size:9.9px;line-height:14px;font-weight:400;color:#a8a8a8;transform:scaleX(0.9500);">12:00</span>
<span class="t" style="left:634.4000000000001px;width:1000px;text-align:center;transform-origin:50% 50%;top:664.00px;font-size:9.9px;line-height:14px;font-weight:400;color:#a8a8a8;transform:scaleX(0.9500);">15:00</span>
<span class="t" style="left:401.28px;transform-origin:0 50%;top:697.00px;font-size:10.5px;line-height:15px;font-weight:400;color:#e2e2e2;transform:scaleX(1.0528);-webkit-text-stroke:0.3px #e2e2e2;">Speed | ESP #02 (rpm)</span>
<span class="t" style="left:545.58px;transform-origin:0 50%;top:697.00px;font-size:10.5px;line-height:15px;font-weight:400;color:#e2e2e2;transform:scaleX(1.0452);-webkit-text-stroke:0.3px #e2e2e2;">Casing Pressure | ESP #02 (psi)</span>
<span class="t" style="left:733.58px;transform-origin:0 50%;top:697.00px;font-size:10.5px;line-height:15px;font-weight:400;color:#e2e2e2;transform:scaleX(1.0543);-webkit-text-stroke:0.3px #e2e2e2;">Water Flow Rate | ESP #02 (bbl/d)</span>
<span class="t" style="left:106.75px;transform-origin:0 50%;top:744.00px;font-size:19px;line-height:27px;font-weight:700;color:#f2f2f2;transform:scaleX(0.9609);">Slot 3 | ESP #03</span>
<div style="left:108px;top:776px;width:1071px;height:240px;background:#212121;"></div>
<svg style="left:0;top:0" width="1580" height="1120" viewBox="0 0 1580 1120"><defs><clipPath id="cp2"><rect x="257.5" y="776" width="898.5" height="200"/></clipPath></defs><line x1="257.2" y1="804.5" x2="1156.1" y2="804.5" stroke="#3c3c3c" stroke-width="1"/><line x1="257.2" y1="870.8" x2="1156.1" y2="870.8" stroke="#3c3c3c" stroke-width="1"/><line x1="257.2" y1="935.0" x2="1156.1" y2="935.0" stroke="#3c3c3c" stroke-width="1"/><line x1="347.6" y1="935.0" x2="347.6" y2="938.8" stroke="#3c3c3c" stroke-width="1"/><line x1="459.85" y1="935.0" x2="459.85" y2="938.8" stroke="#3c3c3c" stroke-width="1"/><line x1="572.1" y1="935.0" x2="572.1" y2="938.8" stroke="#3c3c3c" stroke-width="1"/><line x1="684.35" y1="935.0" x2="684.35" y2="938.8" stroke="#3c3c3c" stroke-width="1"/><line x1="796.6" y1="935.0" x2="796.6" y2="938.8" stroke="#3c3c3c" stroke-width="1"/><line x1="908.85" y1="935.0" x2="908.85" y2="938.8" stroke="#3c3c3c" stroke-width="1"/><line x1="1021.1" y1="935.0" x2="1021.1" y2="938.8" stroke="#3c3c3c" stroke-width="1"/><line x1="1133.35" y1="935.0" x2="1133.35" y2="938.8" stroke="#3c3c3c" stroke-width="1"/><polyline points="254.6,866.7 260.9,865.9 267.1,866.4 273.3,870.1 279.6,872.8 285.8,874.6 292.1,876.0 298.3,877.6 304.5,878.2 310.8,880.0 317.0,881.7 323.2,883.5 329.5,884.6 335.7,885.7 342.0,886.5 348.2,887.3 354.4,887.8 360.7,888.6 366.9,889.4 373.2,890.3 379.4,890.8 385.6,888.4 391.9,881.9 398.1,876.6 404.4,873.9 410.6,869.9 416.8,866.9 423.1,864.8 429.3,862.6 435.6,861.0 441.8,859.4 448.0,858.9 454.3,857.8 460.5,857.8 466.7,850.3 473.0,847.6 479.2,838.5 485.5,833.2 491.7,834.3 497.9,835.9 504.2,830.7 510.4,831.4 516.7,830.7 522.9,830.7 529.1,830.7 535.4,829.4 541.6,842.8 547.9,848.5 554.1,847.6 560.3,858.9 566.6,864.8 572.8,870.1 579.0,872.8 585.3,874.4 591.5,875.7 597.8,876.0 604.0,875.5 610.2,876.6 616.5,877.4 622.7,877.9 629.0,878.2 635.2,878.5 641.4,878.7 647.7,879.3 653.9,879.6 660.2,880.3 666.4,881.4 672.6,880.6 678.9,882.1 685.1,883.0 691.4,883.9 697.6,884.3 703.8,883.6 710.1,880.0 716.3,876.0 722.5,873.4 728.8,871.8 735.0,869.1 741.3,866.8 747.5,866.2 753.7,863.2 760.0,860.3 766.2,857.8 772.5,854.9 778.7,853.5 784.9,849.3 791.2,842.3 797.4,839.1 803.7,829.4 809.9,827.5 816.1,823.5 822.4,828.4 828.6,828.1 834.8,827.3 841.1,825.7 847.3,826.4 853.6,832.4 859.8,833.5 866.0,839.1 872.3,842.1 878.5,854.1 884.8,862.1 891.0,867.5 897.2,871.8 903.5,875.7 909.7,877.6 916.0,879.3 922.2,878.7 928.4,880.3 934.7,872.3 940.9,868.5 947.1,870.1 953.4,873.4 959.6,875.3 965.9,877.1 972.1,878.2 978.3,879.6 984.6,881.4 990.8,882.1 997.1,882.1 1003.3,882.8 1009.5,883.8 1015.8,884.3 1022.0,883.6 1028.3,879.8 1034.5,875.0 1040.7,873.4 1047.0,871.8 1053.2,869.6 1059.5,866.9 1065.7,863.7 1071.9,862.1 1078.2,858.4 1084.4,856.2 1090.6,855.1 1096.9,853.5 1103.1,846.6 1109.4,840.7 1115.6,839.1 1121.8,839.6 1128.1,834.8 1134.3,824.6 1140.6,826.8 1146.8,825.1 1153.0,823.9" fill="none" stroke="#80180f" stroke-width="1.35" stroke-linejoin="round" clip-path="url(#cp2)"/><polyline points="254.6,888.9 260.9,876.0 267.1,824.6 273.3,843.9 279.6,869.6 285.8,869.6 292.1,876.0 298.3,876.0 304.5,863.2 310.8,863.2 317.0,863.2 323.2,882.5 329.5,895.3 335.7,869.6 342.0,876.0 348.2,856.7 354.4,869.6 360.7,863.2 366.9,863.2 373.2,856.7 379.4,876.0 385.6,876.0 391.9,869.6 398.1,863.2 404.4,863.2 410.6,869.6 416.8,856.7 423.1,876.0 429.3,850.3 435.6,882.5 441.8,876.0 448.0,876.0 454.3,895.3 460.5,876.0 466.7,863.2 473.0,863.2 479.2,863.2 485.5,869.6 491.7,876.0 497.9,863.2 504.2,837.5 510.4,863.2 516.7,869.6 522.9,869.6 529.1,888.9 535.4,850.3 541.6,863.2 547.9,856.7 554.1,863.2 560.3,869.6 566.6,869.6 572.8,888.9 579.0,863.2 585.3,856.7 591.5,869.6 597.8,863.2 604.0,876.0 610.2,869.6 616.5,882.5 622.7,843.9 629.0,882.5 635.2,856.7 641.4,882.5 647.7,863.2 653.9,876.0 660.2,869.6 666.4,863.2 672.6,856.7 678.9,869.6 685.1,869.6 691.4,856.7 697.6,882.5 703.8,869.6 710.1,869.6 716.3,850.3 722.5,850.3 728.8,869.6 735.0,863.2 741.3,850.3 747.5,869.6 753.7,888.9 760.0,882.5 766.2,876.0 772.5,882.5 778.7,876.0 784.9,850.3 791.2,863.2 797.4,863.2 803.7,869.6 809.9,895.3 816.1,876.0 822.4,869.6 828.6,863.2 834.8,831.0 841.1,882.5 847.3,869.6 853.6,869.6 859.8,831.0 866.0,876.0 872.3,856.7 878.5,863.2 884.8,876.0 891.0,869.6 897.2,850.3 903.5,876.0 909.7,876.0 916.0,863.2 922.2,869.6 928.4,850.3 934.7,856.7 940.9,856.7 947.1,856.7 953.4,863.2 959.6,843.9 965.9,869.6 972.1,876.0 978.3,895.3 984.6,843.9 990.8,869.6 997.1,876.0 1003.3,863.2 1009.5,856.7 1015.8,863.2 1022.0,882.5 1028.3,863.2 1034.5,876.0 1040.7,850.3 1047.0,856.7 1053.2,843.9 1059.5,856.7 1065.7,850.3 1071.9,888.9 1078.2,856.7 1084.4,856.7 1090.6,888.9 1096.9,863.2 1103.1,837.5 1109.4,908.2 1115.6,850.3 1121.8,869.6 1128.1,888.9 1134.3,869.6 1140.6,876.0 1146.8,882.5 1153.0,856.7" fill="none" stroke="#379eb3" stroke-width="1.5" stroke-linejoin="round" clip-path="url(#cp2)"/><polyline points="254.6,902.3 260.9,866.9 267.1,872.3 273.3,878.7 279.6,881.9 285.8,885.1 292.1,860.5 298.3,879.6 304.5,877.6 310.8,864.8 317.0,868.5 323.2,910.3 329.5,869.6 335.7,891.0 342.0,878.7 348.2,868.0 354.4,865.9 360.7,855.1 366.9,903.4 373.2,855.7 379.4,851.9 385.6,906.6 391.9,878.7 398.1,850.3 404.4,893.7 410.6,863.2 416.8,854.6 423.1,875.5 429.3,882.5 435.6,850.9 441.8,866.4 448.0,845.5 454.3,859.4 460.5,878.2 466.7,883.5 473.0,834.8 479.2,875.0 485.5,851.9 491.7,865.3 497.9,868.0 504.2,854.1 510.4,860.5 516.7,860.0 522.9,875.5 529.1,872.3 535.4,848.2 541.6,924.3 547.9,892.6 554.1,864.3 560.3,910.9 566.6,901.2 572.8,869.6 579.0,895.9 585.3,865.9 591.5,881.9 597.8,858.4 604.0,881.9 610.2,860.5 616.5,862.6 622.7,894.8 629.0,845.5 635.2,893.7 641.4,860.0 647.7,865.9 653.9,880.9 660.2,865.9 666.4,880.9 672.6,872.8 678.9,881.9 685.1,869.1 691.4,875.5 697.6,866.7 703.8,878.5 710.1,864.8 716.3,853.0 722.5,890.0 728.8,875.0 735.0,867.5 741.3,849.8 747.5,877.6 753.7,864.3 760.0,851.4 766.2,863.2 772.5,875.0 778.7,869.1 784.9,853.5 791.2,866.4 797.4,848.2 803.7,851.4 809.9,858.9 816.1,872.3 822.4,860.5 828.6,856.8 834.8,868.0 841.1,865.9 847.3,857.3 853.6,883.0 859.8,890.5 866.0,897.5 872.3,871.8 878.5,887.3 884.8,914.6 891.0,875.5 897.2,895.3 903.5,878.2 909.7,862.1 916.0,899.1 922.2,846.6 928.4,888.9 934.7,879.8 940.9,865.9 947.1,864.8 953.4,887.8 959.6,822.5 965.9,886.2 972.1,870.7 978.3,869.6 984.6,887.3 990.8,876.6 997.1,868.5 1003.3,869.1 1009.5,871.8 1015.8,869.6 1022.0,876.6 1028.3,882.5 1034.5,842.3 1040.7,892.6 1047.0,856.8 1053.2,865.9 1059.5,871.2 1065.7,863.7 1071.9,873.9 1078.2,866.4 1084.4,871.8 1090.6,861.0 1096.9,875.0 1103.1,863.7 1109.4,852.5 1115.6,858.9 1121.8,862.1 1128.1,871.2 1134.3,835.3 1140.6,873.9 1146.8,845.5 1153.0,894.8" fill="none" stroke="#16aa56" stroke-width="1.5" stroke-linejoin="round" clip-path="url(#cp2)"/><line x1="380.9" y1="987.7" x2="394.9" y2="987.7" stroke="#379eb3" stroke-width="1.500" opacity="0.750"/><line x1="525.7" y1="987.7" x2="539.7" y2="987.7" stroke="#8c1a12" stroke-width="1.500" opacity="0.750"/><line x1="713.7" y1="987.7" x2="727.7" y2="987.7" stroke="#16aa56" stroke-width="1.500" opacity="0.750"/></svg>
<span class="t" style="right:1421.7px;transform-origin:100% 50%;top:797.00px;font-size:10.5px;line-height:15px;font-weight:400;color:#a8a8a8;transform:scaleX(0.9350);">18</span>
<span class="t" style="right:1376.1px;transform-origin:100% 50%;top:797.00px;font-size:10.5px;line-height:15px;font-weight:400;color:#a8a8a8;transform:scaleX(0.9350);">60.8</span>
<span class="t" style="right:1330.1px;transform-origin:100% 50%;top:797.00px;font-size:10.5px;line-height:15px;font-weight:400;color:#a8a8a8;transform:scaleX(0.9350);">60</span>
<span class="t" style="right:1421.7px;transform-origin:100% 50%;top:862.00px;font-size:10.5px;line-height:15px;font-weight:400;color:#a8a8a8;transform:scaleX(0.9350);">12</span>
<span class="t" style="right:1376.1px;transform-origin:100% 50%;top:862.00px;font-size:10.5px;line-height:15px;font-weight:400;color:#a8a8a8;transform:scaleX(0.9350);">60</span>
<span class="t" style="right:1330.1px;transform-origin:100% 50%;top:862.00px;font-size:10.5px;line-height:15px;font-weight:400;color:#a8a8a8;transform:scaleX(0.9350);">59.9</span>
<span class="t" style="right:1421.7px;transform-origin:100% 50%;top:926.00px;font-size:10.5px;line-height:15px;font-weight:400;color:#a8a8a8;transform:scaleX(0.9350);">6</span>
<span class="t" style="right:1376.1px;transform-origin:100% 50%;top:926.00px;font-size:10.5px;line-height:15px;font-weight:400;color:#a8a8a8;transform:scaleX(0.9350);">59.2</span>
<span class="t" style="right:1330.1px;transform-origin:100% 50%;top:926.00px;font-size:10.5px;line-height:15px;font-weight:400;color:#a8a8a8;transform:scaleX(0.9350);">59.8</span>
<span class="t" style="left:-363.6px;width:1000px;text-align:center;transform-origin:50% 50%;top:863.00px;font-size:10px;line-height:14px;font-weight:700;color:#d8d8d8;transform:rotate(-90deg) scaleX(0.9878);">bbl/d</span>
<span class="t" style="left:-325.1px;width:1000px;text-align:center;transform-origin:50% 50%;top:863.00px;font-size:10px;line-height:14px;font-weight:700;color:#d8d8d8;transform:rotate(-90deg) scaleX(0.9133);">psi</span>
<span class="t" style="left:-279.2px;width:1000px;text-align:center;transform-origin:50% 50%;top:863.00px;font-size:10px;line-height:14px;font-weight:700;color:#d8d8d8;transform:rotate(-90deg) scaleX(0.9521);">rpm</span>
<span class="t" style="left:-151.7px;width:1000px;text-align:center;transform-origin:50% 50%;top:948.00px;font-size:9.9px;line-height:14px;font-weight:400;color:#a8a8a8;transform:scaleX(0.9500);">18:00</span>
<span class="t" style="left:-39.39999999999998px;width:1000px;text-align:center;transform-origin:50% 50%;top:948.00px;font-size:9.9px;line-height:14px;font-weight:400;color:#a8a8a8;transform:scaleX(0.9500);">21:00</span>
<span class="t" style="left:72.89999999999998px;width:1000px;text-align:center;transform-origin:50% 50%;top:948.00px;font-size:9.9px;line-height:14px;font-weight:400;color:#a8a8a8;transform:scaleX(0.9500);">20 Jun</span>
<span class="t" style="left:185.20000000000005px;width:1000px;text-align:center;transform-origin:50% 50%;top:948.00px;font-size:9.9px;line-height:14px;font-weight:400;color:#a8a8a8;transform:scaleX(0.9500);">03:00</span>
<span class="t" style="left:297.5px;width:1000px;text-align:center;transform-origin:50% 50%;top:948.00px;font-size:9.9px;line-height:14px;font-weight:400;color:#a8a8a8;transform:scaleX(0.9500);">06:00</span>
<span class="t" style="left:409.79999999999995px;width:1000px;text-align:center;transform-origin:50% 50%;top:948.00px;font-size:9.9px;line-height:14px;font-weight:400;color:#a8a8a8;transform:scaleX(0.9500);">09:00</span>
<span class="t" style="left:522.0999999999999px;width:1000px;text-align:center;transform-origin:50% 50%;top:948.00px;font-size:9.9px;line-height:14px;font-weight:400;color:#a8a8a8;transform:scaleX(0.9500);">12:00</span>
<span class="t" style="left:634.4000000000001px;width:1000px;text-align:center;transform-origin:50% 50%;top:948.00px;font-size:9.9px;line-height:14px;font-weight:400;color:#a8a8a8;transform:scaleX(0.9500);">15:00</span>
<span class="t" style="left:401.98px;transform-origin:0 50%;top:981.00px;font-size:10.5px;line-height:15px;font-weight:400;color:#e2e2e2;transform:scaleX(1.0500);-webkit-text-stroke:0.3px #e2e2e2;">Speed | ESP #03 (rpm)</span>
<span class="t" style="left:545.98px;transform-origin:0 50%;top:981.00px;font-size:10.5px;line-height:15px;font-weight:400;color:#e2e2e2;transform:scaleX(1.0426);-webkit-text-stroke:0.3px #e2e2e2;">Casing Pressure | ESP #03 (psi)</span>
<span class="t" style="left:733.98px;transform-origin:0 50%;top:981.00px;font-size:10.5px;line-height:15px;font-weight:400;color:#e2e2e2;transform:scaleX(1.0518);-webkit-text-stroke:0.3px #e2e2e2;">Water Flow Rate | ESP #03 (bbl/d)</span>
<span class="t" style="left:106.95px;transform-origin:0 50%;top:1028.00px;font-size:19px;line-height:27px;font-weight:700;color:#484848;transform:scaleX(0.9336);">Slot 4</span>
<div style="left:137px;top:1041px;width:1005.5px;height:20px;background:rgba(255,255,255,0.2);"></div>
<div style="left:123px;top:1040px;width:14px;height:1px;background:#6c6c6c;"></div>
<div style="left:137px;top:1040px;width:1006px;height:2px;background:#6c6c6c;"></div>
<svg style="left:1142px;top:1039px;" width="16" height="6" viewBox="0 0 16 6"><path d="M0 2Q8 1.600 14.500 3.200" fill="none" stroke="#7a7a7a" stroke-width="1.600" stroke-linecap="round"/></svg>
<div style="left:122px;top:1060.5px;width:1034px;height:13.5px;background:#717171;"></div>
<div style="left:136px;top:1060.5px;width:1px;height:13.5px;background:#5c5c5c;"></div>
<div style="left:1142px;top:1060.5px;width:1px;height:13.5px;background:#5c5c5c;"></div>
<svg style="left:126.7px;top:1065.5px;" width="4" height="5" viewBox="0 0 4 5"><path d="M3.600 0v5L0.300 2.500z" fill="#c4c4c4"/></svg>
<svg style="left:1147.8px;top:1065.5px;" width="4" height="5" viewBox="0 0 4 5"><path d="M0.400 0v5L3.700 2.500z" fill="#c4c4c4"/></svg>
<div style="left:153px;top:1042px;width:1px;height:18.5px;background:#5a5a5a;"></div>
<span class="t" style="left:156.43px;transform-origin:0 50%;top:1045.00px;font-size:11.5px;line-height:16px;font-weight:400;color:#8a8a8a;transform:scaleX(0.9242);">16:00</span>
<div style="left:321px;top:1042px;width:1px;height:18.5px;background:#5a5a5a;"></div>
<span class="t" style="left:324.12px;transform-origin:0 50%;top:1045.00px;font-size:11.5px;line-height:16px;font-weight:400;color:#8a8a8a;transform:scaleX(1.0284);">20:00</span>
<div style="left:488px;top:1042px;width:1px;height:18.5px;background:#5a5a5a;"></div>
<span class="t" style="left:491.82px;transform-origin:0 50%;top:1045.00px;font-size:11.5px;line-height:16px;font-weight:400;color:#8a8a8a;transform:scaleX(1.0107);">20 Jun</span>
<div style="left:656px;top:1042px;width:1px;height:18.5px;background:#5a5a5a;"></div>
<span class="t" style="left:659.52px;transform-origin:0 50%;top:1045.00px;font-size:11.5px;line-height:16px;font-weight:400;color:#8a8a8a;transform:scaleX(1.0389);">04:00</span>
<div style="left:824px;top:1042px;width:1px;height:18.5px;background:#5a5a5a;"></div>
<span class="t" style="left:827.22px;transform-origin:0 50%;top:1045.00px;font-size:11.5px;line-height:16px;font-weight:400;color:#8a8a8a;transform:scaleX(1.0562);">08:00</span>
<div style="left:991px;top:1042px;width:1px;height:18.5px;background:#5a5a5a;"></div>
<span class="t" style="left:994.92px;transform-origin:0 50%;top:1045.00px;font-size:11.5px;line-height:16px;font-weight:400;color:#8a8a8a;transform:scaleX(0.9485);">12:00</span>
<div style="left:136px;top:1042px;width:1px;height:18.5px;background:#666;"></div>
<div style="left:1142px;top:1042px;width:1px;height:18.5px;background:#666;"></div>
<div style="left:132px;top:1044.200px;width:9px;height:12.700px;box-sizing:border-box;border:1px solid #6e6e6e;background:#484848;"></div>
<div style="left:135px;top:1048.2px;width:1px;height:5px;background:#858585;"></div>
<div style="left:137.3px;top:1048.2px;width:1px;height:5px;background:#858585;"></div>
<div style="left:1138px;top:1044.200px;width:9px;height:12.700px;box-sizing:border-box;border:1px solid #6e6e6e;background:#484848;"></div>
<div style="left:1141px;top:1048.2px;width:1px;height:5px;background:#858585;"></div>
<div style="left:1143.3px;top:1048.2px;width:1px;height:5px;background:#858585;"></div>
<div style="left:636px;top:1065px;width:1px;height:6px;background:#fff;"></div>
<div style="left:639px;top:1065px;width:1px;height:6px;background:#fff;"></div>
<div style="left:642px;top:1065px;width:1px;height:6px;background:#fff;"></div>
</body></html>
